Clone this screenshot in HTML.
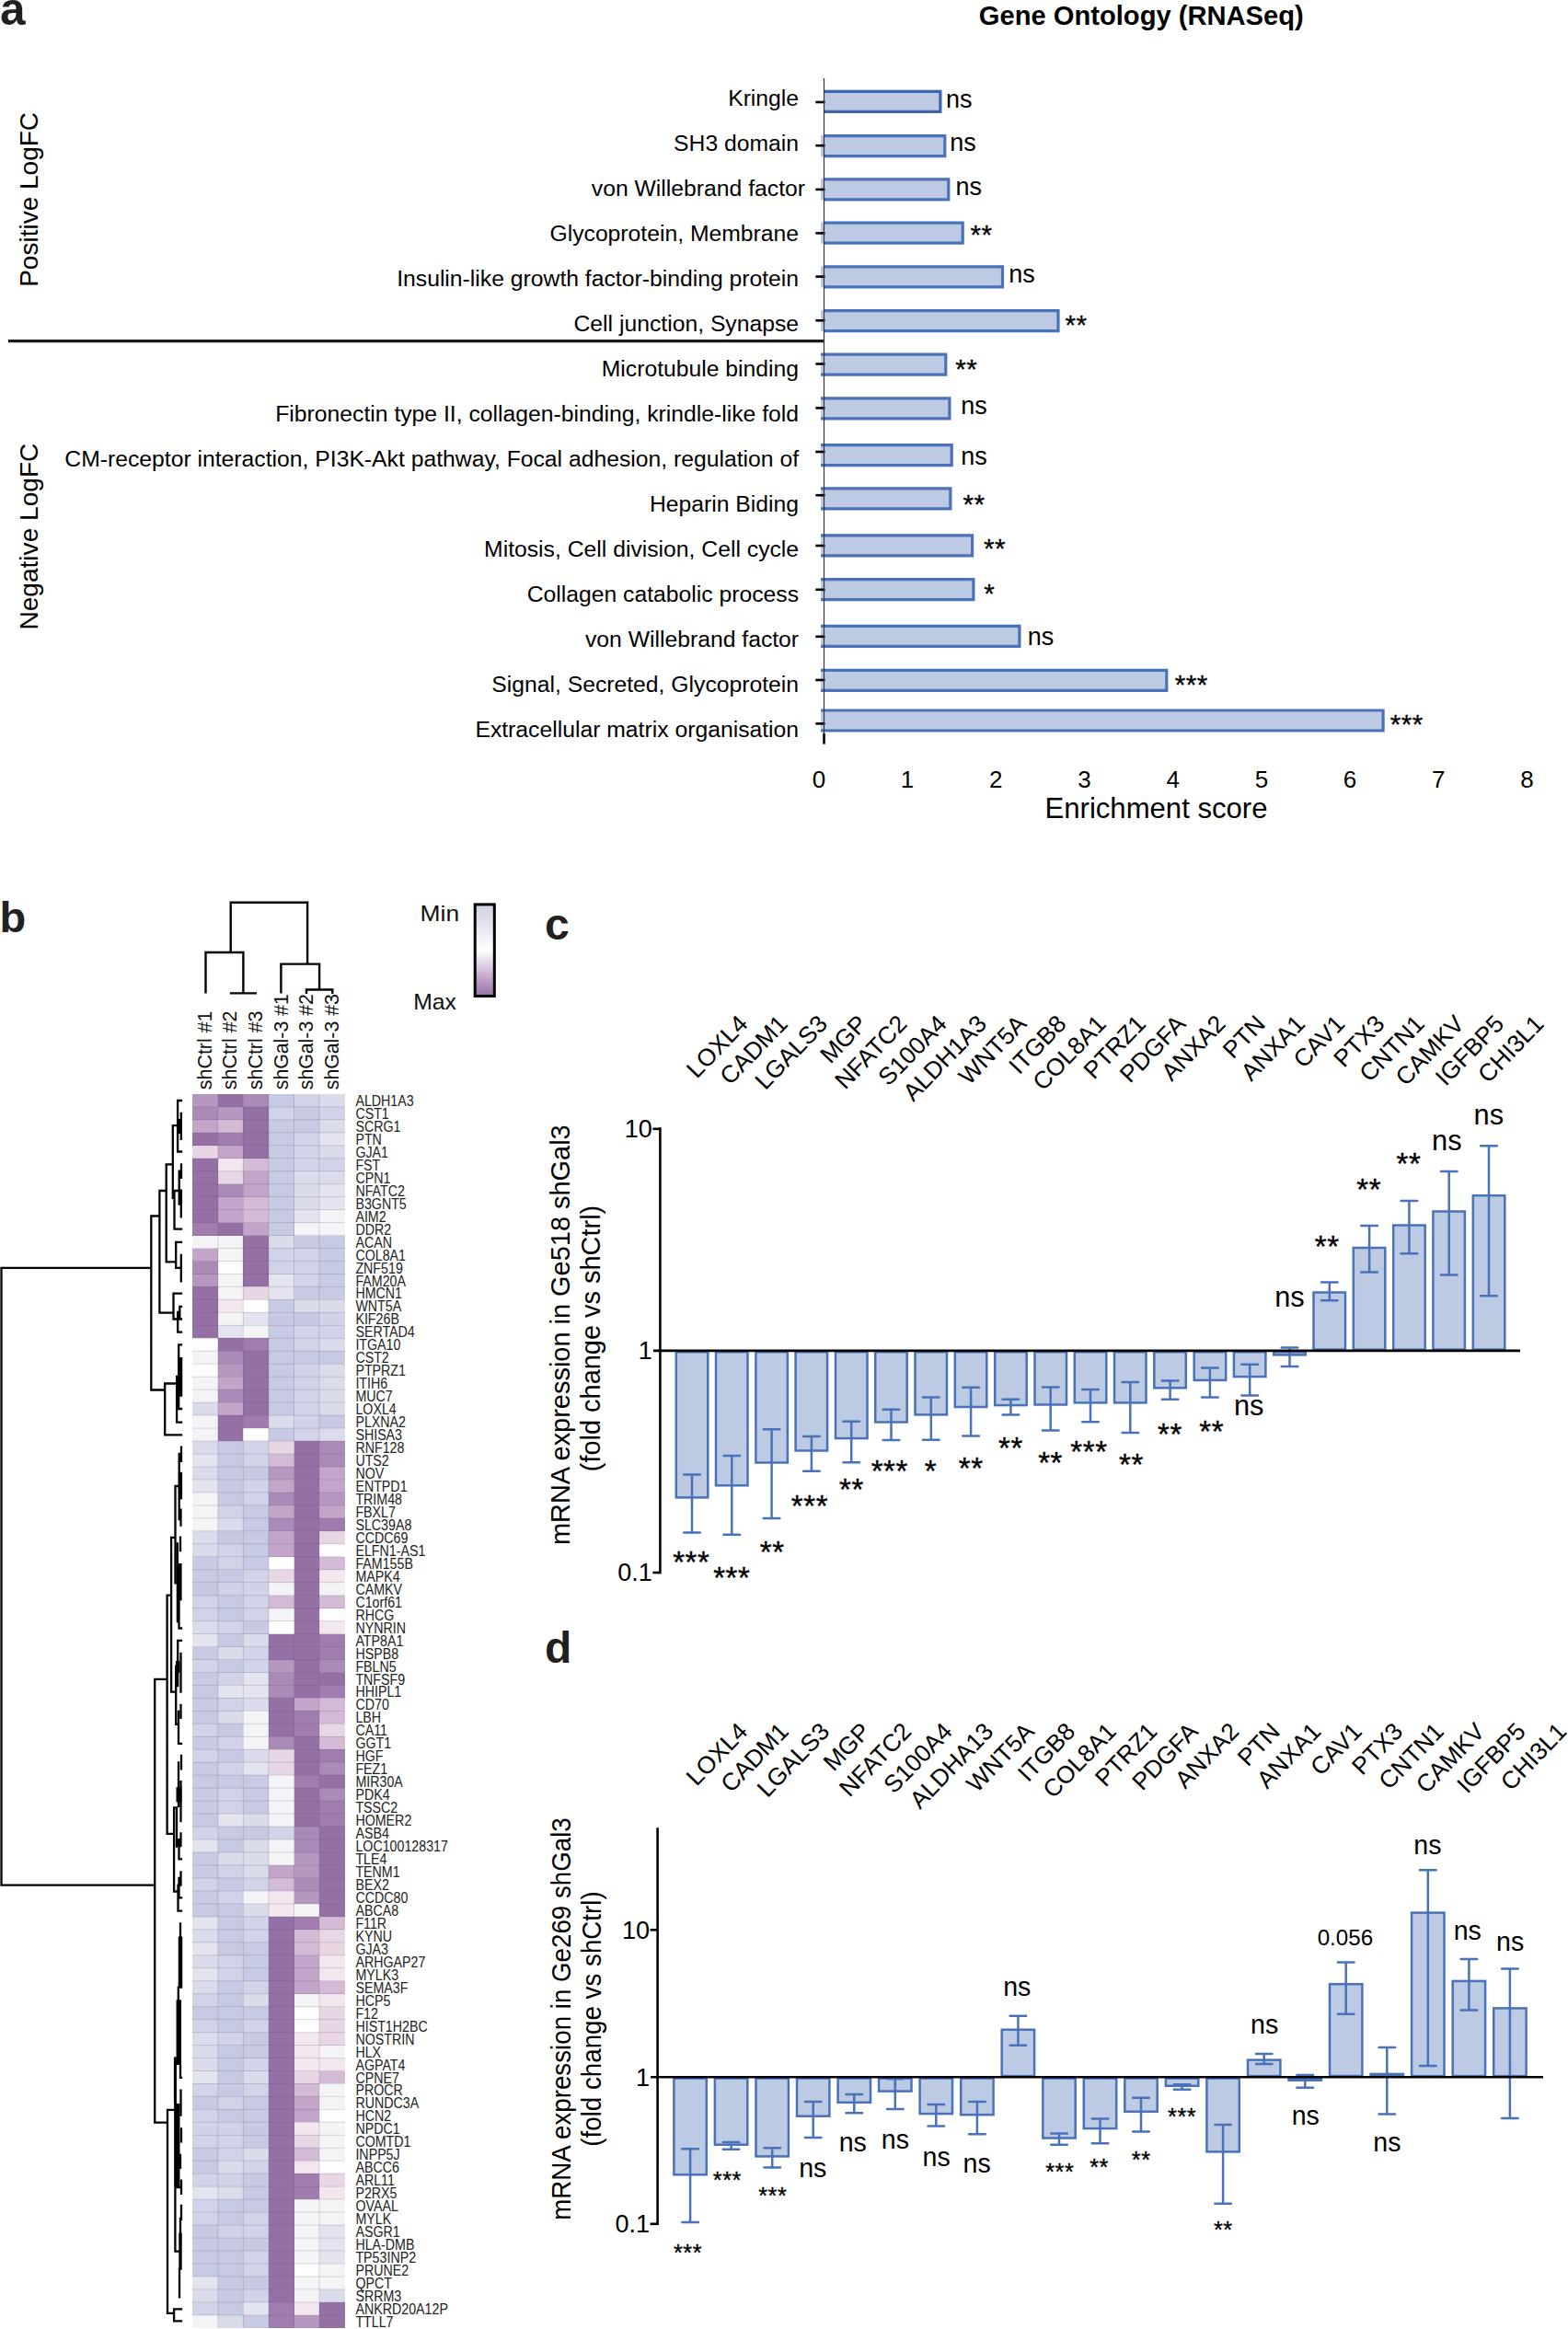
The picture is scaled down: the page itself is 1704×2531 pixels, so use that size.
<!DOCTYPE html>
<html lang="en"><head><meta charset="utf-8"><title>Figure</title>
<style>
html,body{margin:0;padding:0;background:#fff}
svg{display:block}
svg text{font-family:"Liberation Sans",sans-serif}
</style></head><body>
<svg width="1704" height="2531" viewBox="0 0 1704 2531">
<rect width="1704" height="2531" fill="#fff"/>
<g id="panel-a">
<text x="0" y="27.2" font-size="49.5" font-weight="bold" fill="#231f20">a</text>
<text x="1240.3" y="27.2" font-size="29.15" text-anchor="middle" font-weight="bold">Gene Ontology (RNASeq)</text>
<text transform="translate(41 216.9) rotate(-90)" font-size="28" text-anchor="middle">Positive LogFC</text>
<text transform="translate(41 583.1) rotate(-90)" font-size="28.1" text-anchor="middle">Negative LogFC</text>
<line x1="9" y1="370.7" x2="895.5" y2="370.7" stroke="#1a1a1a" stroke-width="3.2"/>
<text x="868.1" y="115" font-size="24.72" text-anchor="end">Kringle</text>
<text x="868.1" y="163.7" font-size="24.72" text-anchor="end">SH3 domain</text>
<text x="875" y="212.7" font-size="24.72" text-anchor="end">von Willebrand factor</text>
<text x="868.1" y="261.6" font-size="24.72" text-anchor="end">Glycoprotein, Membrane</text>
<text x="868.1" y="310.9" font-size="24.72" text-anchor="end">Insulin-like growth factor-binding protein</text>
<text x="868.1" y="359.8" font-size="24.72" text-anchor="end">Cell junction, Synapse</text>
<text x="868.1" y="408.6" font-size="24.72" text-anchor="end">Microtubule binding</text>
<text x="868.1" y="457.6" font-size="24.72" text-anchor="end">Fibronectin type II, collagen-binding, krindle-like fold</text>
<text x="868.1" y="507.1" font-size="24.72" text-anchor="end">CM-receptor interaction, PI3K-Akt pathway, Focal adhesion, regulation of</text>
<text x="868.1" y="556" font-size="24.72" text-anchor="end">Heparin Biding</text>
<text x="868.1" y="605" font-size="24.72" text-anchor="end">Mitosis, Cell division, Cell cycle</text>
<text x="868.1" y="654" font-size="24.72" text-anchor="end">Collagen catabolic process</text>
<text x="868.1" y="703" font-size="24.72" text-anchor="end">von Willebrand factor</text>
<text x="868.1" y="752" font-size="24.72" text-anchor="end">Signal, Secreted, Glycoprotein</text>
<text x="868.1" y="801" font-size="24.72" text-anchor="end">Extracellular matrix organisation</text>
<rect x="895.5" y="98.8" width="127" height="23.2" fill="#bccae3"/>
<path d="M895.5 99.4H1021.9V121.4H895.5" fill="none" stroke="#3f63ad" stroke-width="3.2"/>
<line x1="886.3" y1="111" x2="896.5" y2="111" stroke="#000" stroke-width="2.6"/>
<rect x="892" y="147" width="135.4" height="23.2" fill="#bccae3"/>
<path d="M895.5 147.6H1026.8V169.6H895.5" fill="none" stroke="#4a72b8" stroke-width="3.2"/>
<line x1="886.3" y1="158.2" x2="896.5" y2="158.2" stroke="#000" stroke-width="2.6"/>
<rect x="892" y="194.2" width="139.4" height="23.2" fill="#bccae3"/>
<path d="M895.5 194.8H1030.8V216.8H895.5" fill="none" stroke="#4a72b8" stroke-width="3.2"/>
<line x1="886.3" y1="205.9" x2="896.5" y2="205.9" stroke="#000" stroke-width="2.6"/>
<rect x="892" y="241.6" width="154.8" height="23.2" fill="#bccae3"/>
<path d="M895.5 242.2H1046.2V264.2H895.5" fill="none" stroke="#4a72b8" stroke-width="3.2"/>
<line x1="886.3" y1="253.4" x2="896.5" y2="253.4" stroke="#000" stroke-width="2.6"/>
<rect x="892" y="289.3" width="198.1" height="23.2" fill="#bccae3"/>
<path d="M895.5 289.9H1089.5V311.9H895.5" fill="none" stroke="#4a72b8" stroke-width="3.2"/>
<line x1="886.3" y1="300.6" x2="896.5" y2="300.6" stroke="#000" stroke-width="2.6"/>
<rect x="892" y="337" width="258.6" height="23.2" fill="#bccae3"/>
<path d="M895.5 337.6H1150V359.6H895.5" fill="none" stroke="#4a72b8" stroke-width="3.2"/>
<line x1="886.3" y1="348.3" x2="896.5" y2="348.3" stroke="#000" stroke-width="2.6"/>
<rect x="892" y="384.5" width="136.4" height="23.2" fill="#bccae3"/>
<path d="M892 385.1H1027.8V407.1H892" fill="none" stroke="#4a72b8" stroke-width="3.2"/>
<line x1="886.3" y1="395.5" x2="896.5" y2="395.5" stroke="#000" stroke-width="2.6"/>
<rect x="892" y="432.2" width="140.5" height="23.2" fill="#bccae3"/>
<path d="M892 432.8H1031.9V454.8H892" fill="none" stroke="#4a72b8" stroke-width="3.2"/>
<line x1="886.3" y1="443.4" x2="896.5" y2="443.4" stroke="#000" stroke-width="2.6"/>
<rect x="892" y="483.1" width="142.8" height="23.2" fill="#bccae3"/>
<path d="M892 483.7H1034.2V505.7H892" fill="none" stroke="#4a72b8" stroke-width="3.2"/>
<line x1="886.3" y1="491" x2="896.5" y2="491" stroke="#000" stroke-width="2.6"/>
<rect x="892" y="530.3" width="141.5" height="23.2" fill="#bccae3"/>
<path d="M892 530.9H1032.9V552.9H892" fill="none" stroke="#4a72b8" stroke-width="3.2"/>
<line x1="886.3" y1="538.2" x2="896.5" y2="538.2" stroke="#000" stroke-width="2.6"/>
<rect x="892" y="581.3" width="165.2" height="23.2" fill="#bccae3"/>
<path d="M892 581.9H1056.6V603.9H892" fill="none" stroke="#4a72b8" stroke-width="3.2"/>
<line x1="886.3" y1="593" x2="896.5" y2="593" stroke="#000" stroke-width="2.6"/>
<rect x="892" y="629" width="166.5" height="23.2" fill="#bccae3"/>
<path d="M892 629.6H1057.9V651.6H892" fill="none" stroke="#4a72b8" stroke-width="3.2"/>
<line x1="886.3" y1="640.8" x2="896.5" y2="640.8" stroke="#000" stroke-width="2.6"/>
<rect x="892" y="679.8" width="216.5" height="23.2" fill="#bccae3"/>
<path d="M892 680.4H1107.9V702.4H892" fill="none" stroke="#4a72b8" stroke-width="3.2"/>
<line x1="886.3" y1="691.8" x2="896.5" y2="691.8" stroke="#000" stroke-width="2.6"/>
<rect x="892" y="727.7" width="376.4" height="23.2" fill="#bccae3"/>
<path d="M892 728.3H1267.8V750.3H892" fill="none" stroke="#4a72b8" stroke-width="3.2"/>
<line x1="886.3" y1="739" x2="896.5" y2="739" stroke="#000" stroke-width="2.6"/>
<rect x="892" y="771.4" width="611.7" height="23.2" fill="#bccae3"/>
<path d="M892 772H1503.1V794H892" fill="none" stroke="#4a72b8" stroke-width="3.2"/>
<line x1="886.3" y1="786.4" x2="896.5" y2="786.4" stroke="#000" stroke-width="2.6"/>
<line x1="895.5" y1="85" x2="895.5" y2="797" stroke="#333" stroke-width="1.2"/>
<line x1="895.5" y1="797" x2="895.5" y2="808.6" stroke="#000" stroke-width="2.6"/>
<text x="889.9" y="855.6" font-size="26" text-anchor="middle">0</text>
<text x="986.1" y="855.6" font-size="26" text-anchor="middle">1</text>
<text x="1082.3" y="855.6" font-size="26" text-anchor="middle">2</text>
<text x="1178.5" y="855.6" font-size="26" text-anchor="middle">3</text>
<text x="1274.7" y="855.6" font-size="26" text-anchor="middle">4</text>
<text x="1370.9" y="855.6" font-size="26" text-anchor="middle">5</text>
<text x="1467.1" y="855.6" font-size="26" text-anchor="middle">6</text>
<text x="1563.3" y="855.6" font-size="26" text-anchor="middle">7</text>
<text x="1659.5" y="855.6" font-size="26" text-anchor="middle">8</text>
<text x="1256.5" y="888.8" font-size="31.1" text-anchor="middle">Enrichment score</text>
<text x="1028.1" y="116.9" font-size="27">ns</text>
<text x="1032.2" y="164.1" font-size="27">ns</text>
<text x="1038.6" y="212.1" font-size="27">ns</text>
<text x="1054.5" y="264.7" font-size="29.6" letter-spacing="0.5" stroke="#000" stroke-width="0.3">**</text>
<text x="1096.2" y="307" font-size="27">ns</text>
<text x="1157.6" y="362.9" font-size="29.6" letter-spacing="0.5" stroke="#000" stroke-width="0.3">**</text>
<text x="1038.2" y="410.6" font-size="29.6" letter-spacing="0.5" stroke="#000" stroke-width="0.3">**</text>
<text x="1044.2" y="449.8" font-size="27">ns</text>
<text x="1044.2" y="505.3" font-size="27">ns</text>
<text x="1046.4" y="557.9" font-size="29.6" letter-spacing="0.5" stroke="#000" stroke-width="0.3">**</text>
<text x="1069.1" y="606.4" font-size="29.6" letter-spacing="0.5" stroke="#000" stroke-width="0.3">**</text>
<text x="1069.3" y="654.9" font-size="29.6" letter-spacing="0.5" stroke="#000" stroke-width="0.3">*</text>
<text x="1116.7" y="701" font-size="27">ns</text>
<text x="1276.7" y="754.1" font-size="29.6" letter-spacing="0.5" stroke="#000" stroke-width="0.3">***</text>
<text x="1510.7" y="797.1" font-size="29.6" letter-spacing="0.5" stroke="#000" stroke-width="0.3">***</text>
</g>
<g id="panel-b">
<text x="-0.6" y="1013" font-size="47" font-weight="bold" fill="#231f20">b</text>
<g shape-rendering="crispEdges">
<rect x="209.2" y="1188.9" width="27.9" height="14.3" fill="#b597bf"/>
<rect x="236.8" y="1188.9" width="27.9" height="14.3" fill="#9570a5"/>
<rect x="264.3" y="1188.9" width="27.9" height="14.3" fill="#aa8ab6"/>
<rect x="291.9" y="1188.9" width="27.9" height="14.3" fill="#c7cae3"/>
<rect x="319.5" y="1188.9" width="27.9" height="14.3" fill="#d1d3e8"/>
<rect x="347" y="1188.9" width="27.9" height="14.3" fill="#dadbeb"/>
<rect x="209.2" y="1202.9" width="27.9" height="14.3" fill="#aa8ab6"/>
<rect x="236.8" y="1202.9" width="27.9" height="14.3" fill="#b597bf"/>
<rect x="264.3" y="1202.9" width="27.9" height="14.3" fill="#9570a5"/>
<rect x="291.9" y="1202.9" width="27.9" height="14.3" fill="#d1d3e8"/>
<rect x="319.5" y="1202.9" width="27.9" height="14.3" fill="#c7cae3"/>
<rect x="347" y="1202.9" width="27.9" height="14.3" fill="#d1d3e8"/>
<rect x="209.2" y="1216.8" width="27.9" height="14.3" fill="#c2a5c9"/>
<rect x="236.8" y="1216.8" width="27.9" height="14.3" fill="#d3bbd6"/>
<rect x="264.3" y="1216.8" width="27.9" height="14.3" fill="#9570a5"/>
<rect x="291.9" y="1216.8" width="27.9" height="14.3" fill="#c7cae3"/>
<rect x="319.5" y="1216.8" width="27.9" height="14.3" fill="#c7cae3"/>
<rect x="347" y="1216.8" width="27.9" height="14.3" fill="#dadbeb"/>
<rect x="209.2" y="1230.8" width="27.9" height="14.3" fill="#9570a5"/>
<rect x="236.8" y="1230.8" width="27.9" height="14.3" fill="#a07dae"/>
<rect x="264.3" y="1230.8" width="27.9" height="14.3" fill="#9570a5"/>
<rect x="291.9" y="1230.8" width="27.9" height="14.3" fill="#c7cae3"/>
<rect x="319.5" y="1230.8" width="27.9" height="14.3" fill="#d1d3e8"/>
<rect x="347" y="1230.8" width="27.9" height="14.3" fill="#e3e4f0"/>
<rect x="209.2" y="1244.8" width="27.9" height="14.3" fill="#e8d6e5"/>
<rect x="236.8" y="1244.8" width="27.9" height="14.3" fill="#c2a5c9"/>
<rect x="264.3" y="1244.8" width="27.9" height="14.3" fill="#9570a5"/>
<rect x="291.9" y="1244.8" width="27.9" height="14.3" fill="#c7cae3"/>
<rect x="319.5" y="1244.8" width="27.9" height="14.3" fill="#d1d3e8"/>
<rect x="347" y="1244.8" width="27.9" height="14.3" fill="#dadbeb"/>
<rect x="209.2" y="1258.7" width="27.9" height="14.3" fill="#9570a5"/>
<rect x="236.8" y="1258.7" width="27.9" height="14.3" fill="#f2e7ee"/>
<rect x="264.3" y="1258.7" width="27.9" height="14.3" fill="#d3bbd6"/>
<rect x="291.9" y="1258.7" width="27.9" height="14.3" fill="#c7cae3"/>
<rect x="319.5" y="1258.7" width="27.9" height="14.3" fill="#d1d3e8"/>
<rect x="347" y="1258.7" width="27.9" height="14.3" fill="#d1d3e8"/>
<rect x="209.2" y="1272.7" width="27.9" height="14.3" fill="#9570a5"/>
<rect x="236.8" y="1272.7" width="27.9" height="14.3" fill="#e8d6e5"/>
<rect x="264.3" y="1272.7" width="27.9" height="14.3" fill="#c2a5c9"/>
<rect x="291.9" y="1272.7" width="27.9" height="14.3" fill="#c7cae3"/>
<rect x="319.5" y="1272.7" width="27.9" height="14.3" fill="#dadbeb"/>
<rect x="347" y="1272.7" width="27.9" height="14.3" fill="#dadbeb"/>
<rect x="209.2" y="1286.7" width="27.9" height="14.3" fill="#9570a5"/>
<rect x="236.8" y="1286.7" width="27.9" height="14.3" fill="#aa8ab6"/>
<rect x="264.3" y="1286.7" width="27.9" height="14.3" fill="#c2a5c9"/>
<rect x="291.9" y="1286.7" width="27.9" height="14.3" fill="#c7cae3"/>
<rect x="319.5" y="1286.7" width="27.9" height="14.3" fill="#dadbeb"/>
<rect x="347" y="1286.7" width="27.9" height="14.3" fill="#e3e4f0"/>
<rect x="209.2" y="1300.6" width="27.9" height="14.3" fill="#9570a5"/>
<rect x="236.8" y="1300.6" width="27.9" height="14.3" fill="#c2a5c9"/>
<rect x="264.3" y="1300.6" width="27.9" height="14.3" fill="#d3bbd6"/>
<rect x="291.9" y="1300.6" width="27.9" height="14.3" fill="#c7cae3"/>
<rect x="319.5" y="1300.6" width="27.9" height="14.3" fill="#dadbeb"/>
<rect x="347" y="1300.6" width="27.9" height="14.3" fill="#e3e4f0"/>
<rect x="209.2" y="1314.6" width="27.9" height="14.3" fill="#9570a5"/>
<rect x="236.8" y="1314.6" width="27.9" height="14.3" fill="#c2a5c9"/>
<rect x="264.3" y="1314.6" width="27.9" height="14.3" fill="#d3bbd6"/>
<rect x="291.9" y="1314.6" width="27.9" height="14.3" fill="#c7cae3"/>
<rect x="319.5" y="1314.6" width="27.9" height="14.3" fill="#e3e4f0"/>
<rect x="347" y="1314.6" width="27.9" height="14.3" fill="#f4f4f6"/>
<rect x="209.2" y="1328.6" width="27.9" height="14.3" fill="#a07dae"/>
<rect x="236.8" y="1328.6" width="27.9" height="14.3" fill="#9570a5"/>
<rect x="264.3" y="1328.6" width="27.9" height="14.3" fill="#c2a5c9"/>
<rect x="291.9" y="1328.6" width="27.9" height="14.3" fill="#c7cae3"/>
<rect x="319.5" y="1328.6" width="27.9" height="14.3" fill="#f4f4f6"/>
<rect x="347" y="1328.6" width="27.9" height="14.3" fill="#f4f4f6"/>
<rect x="209.2" y="1342.5" width="27.9" height="14.3" fill="#f4f4f6"/>
<rect x="236.8" y="1342.5" width="27.9" height="14.3" fill="#f4f4f6"/>
<rect x="264.3" y="1342.5" width="27.9" height="14.3" fill="#9570a5"/>
<rect x="291.9" y="1342.5" width="27.9" height="14.3" fill="#dadbeb"/>
<rect x="319.5" y="1342.5" width="27.9" height="14.3" fill="#c7cae3"/>
<rect x="347" y="1342.5" width="27.9" height="14.3" fill="#c7cae3"/>
<rect x="209.2" y="1356.5" width="27.9" height="14.3" fill="#c2a5c9"/>
<rect x="236.8" y="1356.5" width="27.9" height="14.3" fill="#f4f4f6"/>
<rect x="264.3" y="1356.5" width="27.9" height="14.3" fill="#9570a5"/>
<rect x="291.9" y="1356.5" width="27.9" height="14.3" fill="#d1d3e8"/>
<rect x="319.5" y="1356.5" width="27.9" height="14.3" fill="#d1d3e8"/>
<rect x="347" y="1356.5" width="27.9" height="14.3" fill="#c7cae3"/>
<rect x="209.2" y="1370.5" width="27.9" height="14.3" fill="#aa8ab6"/>
<rect x="236.8" y="1370.5" width="27.9" height="14.3" fill="#fdfdfd"/>
<rect x="264.3" y="1370.5" width="27.9" height="14.3" fill="#9570a5"/>
<rect x="291.9" y="1370.5" width="27.9" height="14.3" fill="#d1d3e8"/>
<rect x="319.5" y="1370.5" width="27.9" height="14.3" fill="#d1d3e8"/>
<rect x="347" y="1370.5" width="27.9" height="14.3" fill="#c7cae3"/>
<rect x="209.2" y="1384.5" width="27.9" height="14.3" fill="#b597bf"/>
<rect x="236.8" y="1384.5" width="27.9" height="14.3" fill="#f4f4f6"/>
<rect x="264.3" y="1384.5" width="27.9" height="14.3" fill="#9570a5"/>
<rect x="291.9" y="1384.5" width="27.9" height="14.3" fill="#e3e4f0"/>
<rect x="319.5" y="1384.5" width="27.9" height="14.3" fill="#d1d3e8"/>
<rect x="347" y="1384.5" width="27.9" height="14.3" fill="#c7cae3"/>
<rect x="209.2" y="1398.4" width="27.9" height="14.3" fill="#9570a5"/>
<rect x="236.8" y="1398.4" width="27.9" height="14.3" fill="#f4f4f6"/>
<rect x="264.3" y="1398.4" width="27.9" height="14.3" fill="#e8d6e5"/>
<rect x="291.9" y="1398.4" width="27.9" height="14.3" fill="#e3e4f0"/>
<rect x="319.5" y="1398.4" width="27.9" height="14.3" fill="#c7cae3"/>
<rect x="347" y="1398.4" width="27.9" height="14.3" fill="#c7cae3"/>
<rect x="209.2" y="1412.4" width="27.9" height="14.3" fill="#9570a5"/>
<rect x="236.8" y="1412.4" width="27.9" height="14.3" fill="#f2e7ee"/>
<rect x="264.3" y="1412.4" width="27.9" height="14.3" fill="#fdfdfd"/>
<rect x="291.9" y="1412.4" width="27.9" height="14.3" fill="#c7cae3"/>
<rect x="319.5" y="1412.4" width="27.9" height="14.3" fill="#dadbeb"/>
<rect x="347" y="1412.4" width="27.9" height="14.3" fill="#dadbeb"/>
<rect x="209.2" y="1426.4" width="27.9" height="14.3" fill="#9570a5"/>
<rect x="236.8" y="1426.4" width="27.9" height="14.3" fill="#f4f4f6"/>
<rect x="264.3" y="1426.4" width="27.9" height="14.3" fill="#e3e4f0"/>
<rect x="291.9" y="1426.4" width="27.9" height="14.3" fill="#c7cae3"/>
<rect x="319.5" y="1426.4" width="27.9" height="14.3" fill="#c7cae3"/>
<rect x="347" y="1426.4" width="27.9" height="14.3" fill="#d1d3e8"/>
<rect x="209.2" y="1440.3" width="27.9" height="14.3" fill="#9570a5"/>
<rect x="236.8" y="1440.3" width="27.9" height="14.3" fill="#e3e4f0"/>
<rect x="264.3" y="1440.3" width="27.9" height="14.3" fill="#f4f4f6"/>
<rect x="291.9" y="1440.3" width="27.9" height="14.3" fill="#c7cae3"/>
<rect x="319.5" y="1440.3" width="27.9" height="14.3" fill="#d1d3e8"/>
<rect x="347" y="1440.3" width="27.9" height="14.3" fill="#d1d3e8"/>
<rect x="209.2" y="1454.3" width="27.9" height="14.3" fill="#fdfdfd"/>
<rect x="236.8" y="1454.3" width="27.9" height="14.3" fill="#9570a5"/>
<rect x="264.3" y="1454.3" width="27.9" height="14.3" fill="#a07dae"/>
<rect x="291.9" y="1454.3" width="27.9" height="14.3" fill="#c7cae3"/>
<rect x="319.5" y="1454.3" width="27.9" height="14.3" fill="#d1d3e8"/>
<rect x="347" y="1454.3" width="27.9" height="14.3" fill="#dadbeb"/>
<rect x="209.2" y="1468.3" width="27.9" height="14.3" fill="#f4f4f6"/>
<rect x="236.8" y="1468.3" width="27.9" height="14.3" fill="#aa8ab6"/>
<rect x="264.3" y="1468.3" width="27.9" height="14.3" fill="#9570a5"/>
<rect x="291.9" y="1468.3" width="27.9" height="14.3" fill="#c7cae3"/>
<rect x="319.5" y="1468.3" width="27.9" height="14.3" fill="#c7cae3"/>
<rect x="347" y="1468.3" width="27.9" height="14.3" fill="#c7cae3"/>
<rect x="209.2" y="1482.2" width="27.9" height="14.3" fill="#fdfdfd"/>
<rect x="236.8" y="1482.2" width="27.9" height="14.3" fill="#b597bf"/>
<rect x="264.3" y="1482.2" width="27.9" height="14.3" fill="#9570a5"/>
<rect x="291.9" y="1482.2" width="27.9" height="14.3" fill="#c7cae3"/>
<rect x="319.5" y="1482.2" width="27.9" height="14.3" fill="#d1d3e8"/>
<rect x="347" y="1482.2" width="27.9" height="14.3" fill="#dadbeb"/>
<rect x="209.2" y="1496.2" width="27.9" height="14.3" fill="#f4f4f6"/>
<rect x="236.8" y="1496.2" width="27.9" height="14.3" fill="#c2a5c9"/>
<rect x="264.3" y="1496.2" width="27.9" height="14.3" fill="#9570a5"/>
<rect x="291.9" y="1496.2" width="27.9" height="14.3" fill="#c7cae3"/>
<rect x="319.5" y="1496.2" width="27.9" height="14.3" fill="#d1d3e8"/>
<rect x="347" y="1496.2" width="27.9" height="14.3" fill="#dadbeb"/>
<rect x="209.2" y="1510.2" width="27.9" height="14.3" fill="#f4f4f6"/>
<rect x="236.8" y="1510.2" width="27.9" height="14.3" fill="#aa8ab6"/>
<rect x="264.3" y="1510.2" width="27.9" height="14.3" fill="#9570a5"/>
<rect x="291.9" y="1510.2" width="27.9" height="14.3" fill="#c7cae3"/>
<rect x="319.5" y="1510.2" width="27.9" height="14.3" fill="#d1d3e8"/>
<rect x="347" y="1510.2" width="27.9" height="14.3" fill="#dadbeb"/>
<rect x="209.2" y="1524.1" width="27.9" height="14.3" fill="#dadbeb"/>
<rect x="236.8" y="1524.1" width="27.9" height="14.3" fill="#c2a5c9"/>
<rect x="264.3" y="1524.1" width="27.9" height="14.3" fill="#9570a5"/>
<rect x="291.9" y="1524.1" width="27.9" height="14.3" fill="#c7cae3"/>
<rect x="319.5" y="1524.1" width="27.9" height="14.3" fill="#d1d3e8"/>
<rect x="347" y="1524.1" width="27.9" height="14.3" fill="#dadbeb"/>
<rect x="209.2" y="1538.1" width="27.9" height="14.3" fill="#f4f4f6"/>
<rect x="236.8" y="1538.1" width="27.9" height="14.3" fill="#9570a5"/>
<rect x="264.3" y="1538.1" width="27.9" height="14.3" fill="#a07dae"/>
<rect x="291.9" y="1538.1" width="27.9" height="14.3" fill="#dadbeb"/>
<rect x="319.5" y="1538.1" width="27.9" height="14.3" fill="#d1d3e8"/>
<rect x="347" y="1538.1" width="27.9" height="14.3" fill="#c7cae3"/>
<rect x="209.2" y="1552.1" width="27.9" height="14.3" fill="#f4f4f6"/>
<rect x="236.8" y="1552.1" width="27.9" height="14.3" fill="#9570a5"/>
<rect x="264.3" y="1552.1" width="27.9" height="14.3" fill="#fdfdfd"/>
<rect x="291.9" y="1552.1" width="27.9" height="14.3" fill="#c7cae3"/>
<rect x="319.5" y="1552.1" width="27.9" height="14.3" fill="#d1d3e8"/>
<rect x="347" y="1552.1" width="27.9" height="14.3" fill="#dadbeb"/>
<rect x="209.2" y="1566" width="27.9" height="14.3" fill="#dadbeb"/>
<rect x="236.8" y="1566" width="27.9" height="14.3" fill="#c7cae3"/>
<rect x="264.3" y="1566" width="27.9" height="14.3" fill="#d1d3e8"/>
<rect x="291.9" y="1566" width="27.9" height="14.3" fill="#e8d6e5"/>
<rect x="319.5" y="1566" width="27.9" height="14.3" fill="#9570a5"/>
<rect x="347" y="1566" width="27.9" height="14.3" fill="#aa8ab6"/>
<rect x="209.2" y="1580" width="27.9" height="14.3" fill="#e3e4f0"/>
<rect x="236.8" y="1580" width="27.9" height="14.3" fill="#c7cae3"/>
<rect x="264.3" y="1580" width="27.9" height="14.3" fill="#d1d3e8"/>
<rect x="291.9" y="1580" width="27.9" height="14.3" fill="#d3bbd6"/>
<rect x="319.5" y="1580" width="27.9" height="14.3" fill="#9570a5"/>
<rect x="347" y="1580" width="27.9" height="14.3" fill="#aa8ab6"/>
<rect x="209.2" y="1594" width="27.9" height="14.3" fill="#dadbeb"/>
<rect x="236.8" y="1594" width="27.9" height="14.3" fill="#c7cae3"/>
<rect x="264.3" y="1594" width="27.9" height="14.3" fill="#c7cae3"/>
<rect x="291.9" y="1594" width="27.9" height="14.3" fill="#b597bf"/>
<rect x="319.5" y="1594" width="27.9" height="14.3" fill="#9570a5"/>
<rect x="347" y="1594" width="27.9" height="14.3" fill="#c2a5c9"/>
<rect x="209.2" y="1607.9" width="27.9" height="14.3" fill="#e3e4f0"/>
<rect x="236.8" y="1607.9" width="27.9" height="14.3" fill="#c7cae3"/>
<rect x="264.3" y="1607.9" width="27.9" height="14.3" fill="#d1d3e8"/>
<rect x="291.9" y="1607.9" width="27.9" height="14.3" fill="#c2a5c9"/>
<rect x="319.5" y="1607.9" width="27.9" height="14.3" fill="#9570a5"/>
<rect x="347" y="1607.9" width="27.9" height="14.3" fill="#c2a5c9"/>
<rect x="209.2" y="1621.9" width="27.9" height="14.3" fill="#f4f4f6"/>
<rect x="236.8" y="1621.9" width="27.9" height="14.3" fill="#c7cae3"/>
<rect x="264.3" y="1621.9" width="27.9" height="14.3" fill="#d1d3e8"/>
<rect x="291.9" y="1621.9" width="27.9" height="14.3" fill="#aa8ab6"/>
<rect x="319.5" y="1621.9" width="27.9" height="14.3" fill="#9570a5"/>
<rect x="347" y="1621.9" width="27.9" height="14.3" fill="#b597bf"/>
<rect x="209.2" y="1635.9" width="27.9" height="14.3" fill="#f4f4f6"/>
<rect x="236.8" y="1635.9" width="27.9" height="14.3" fill="#d1d3e8"/>
<rect x="264.3" y="1635.9" width="27.9" height="14.3" fill="#c7cae3"/>
<rect x="291.9" y="1635.9" width="27.9" height="14.3" fill="#c2a5c9"/>
<rect x="319.5" y="1635.9" width="27.9" height="14.3" fill="#9570a5"/>
<rect x="347" y="1635.9" width="27.9" height="14.3" fill="#c2a5c9"/>
<rect x="209.2" y="1649.8" width="27.9" height="14.3" fill="#f4f4f6"/>
<rect x="236.8" y="1649.8" width="27.9" height="14.3" fill="#dadbeb"/>
<rect x="264.3" y="1649.8" width="27.9" height="14.3" fill="#c7cae3"/>
<rect x="291.9" y="1649.8" width="27.9" height="14.3" fill="#aa8ab6"/>
<rect x="319.5" y="1649.8" width="27.9" height="14.3" fill="#9570a5"/>
<rect x="347" y="1649.8" width="27.9" height="14.3" fill="#a07dae"/>
<rect x="209.2" y="1663.8" width="27.9" height="14.3" fill="#dadbeb"/>
<rect x="236.8" y="1663.8" width="27.9" height="14.3" fill="#c7cae3"/>
<rect x="264.3" y="1663.8" width="27.9" height="14.3" fill="#c7cae3"/>
<rect x="291.9" y="1663.8" width="27.9" height="14.3" fill="#c2a5c9"/>
<rect x="319.5" y="1663.8" width="27.9" height="14.3" fill="#9570a5"/>
<rect x="347" y="1663.8" width="27.9" height="14.3" fill="#e8d6e5"/>
<rect x="209.2" y="1677.8" width="27.9" height="14.3" fill="#dadbeb"/>
<rect x="236.8" y="1677.8" width="27.9" height="14.3" fill="#d1d3e8"/>
<rect x="264.3" y="1677.8" width="27.9" height="14.3" fill="#c7cae3"/>
<rect x="291.9" y="1677.8" width="27.9" height="14.3" fill="#c2a5c9"/>
<rect x="319.5" y="1677.8" width="27.9" height="14.3" fill="#9570a5"/>
<rect x="347" y="1677.8" width="27.9" height="14.3" fill="#fdfdfd"/>
<rect x="209.2" y="1691.7" width="27.9" height="14.3" fill="#c7cae3"/>
<rect x="236.8" y="1691.7" width="27.9" height="14.3" fill="#d1d3e8"/>
<rect x="264.3" y="1691.7" width="27.9" height="14.3" fill="#c7cae3"/>
<rect x="291.9" y="1691.7" width="27.9" height="14.3" fill="#fdfdfd"/>
<rect x="319.5" y="1691.7" width="27.9" height="14.3" fill="#9570a5"/>
<rect x="347" y="1691.7" width="27.9" height="14.3" fill="#d3bbd6"/>
<rect x="209.2" y="1705.7" width="27.9" height="14.3" fill="#c7cae3"/>
<rect x="236.8" y="1705.7" width="27.9" height="14.3" fill="#c7cae3"/>
<rect x="264.3" y="1705.7" width="27.9" height="14.3" fill="#d1d3e8"/>
<rect x="291.9" y="1705.7" width="27.9" height="14.3" fill="#e8d6e5"/>
<rect x="319.5" y="1705.7" width="27.9" height="14.3" fill="#9570a5"/>
<rect x="347" y="1705.7" width="27.9" height="14.3" fill="#f2e7ee"/>
<rect x="209.2" y="1719.7" width="27.9" height="14.3" fill="#c7cae3"/>
<rect x="236.8" y="1719.7" width="27.9" height="14.3" fill="#d1d3e8"/>
<rect x="264.3" y="1719.7" width="27.9" height="14.3" fill="#d1d3e8"/>
<rect x="291.9" y="1719.7" width="27.9" height="14.3" fill="#f4f4f6"/>
<rect x="319.5" y="1719.7" width="27.9" height="14.3" fill="#9570a5"/>
<rect x="347" y="1719.7" width="27.9" height="14.3" fill="#f4f4f6"/>
<rect x="209.2" y="1733.7" width="27.9" height="14.3" fill="#d1d3e8"/>
<rect x="236.8" y="1733.7" width="27.9" height="14.3" fill="#c7cae3"/>
<rect x="264.3" y="1733.7" width="27.9" height="14.3" fill="#d1d3e8"/>
<rect x="291.9" y="1733.7" width="27.9" height="14.3" fill="#d3bbd6"/>
<rect x="319.5" y="1733.7" width="27.9" height="14.3" fill="#9570a5"/>
<rect x="347" y="1733.7" width="27.9" height="14.3" fill="#d3bbd6"/>
<rect x="209.2" y="1747.6" width="27.9" height="14.3" fill="#d1d3e8"/>
<rect x="236.8" y="1747.6" width="27.9" height="14.3" fill="#c7cae3"/>
<rect x="264.3" y="1747.6" width="27.9" height="14.3" fill="#d1d3e8"/>
<rect x="291.9" y="1747.6" width="27.9" height="14.3" fill="#f4f4f6"/>
<rect x="319.5" y="1747.6" width="27.9" height="14.3" fill="#9570a5"/>
<rect x="347" y="1747.6" width="27.9" height="14.3" fill="#fdfdfd"/>
<rect x="209.2" y="1761.6" width="27.9" height="14.3" fill="#dadbeb"/>
<rect x="236.8" y="1761.6" width="27.9" height="14.3" fill="#d1d3e8"/>
<rect x="264.3" y="1761.6" width="27.9" height="14.3" fill="#c7cae3"/>
<rect x="291.9" y="1761.6" width="27.9" height="14.3" fill="#fdfdfd"/>
<rect x="319.5" y="1761.6" width="27.9" height="14.3" fill="#9570a5"/>
<rect x="347" y="1761.6" width="27.9" height="14.3" fill="#f2e7ee"/>
<rect x="209.2" y="1775.6" width="27.9" height="14.3" fill="#e3e4f0"/>
<rect x="236.8" y="1775.6" width="27.9" height="14.3" fill="#c7cae3"/>
<rect x="264.3" y="1775.6" width="27.9" height="14.3" fill="#dadbeb"/>
<rect x="291.9" y="1775.6" width="27.9" height="14.3" fill="#9570a5"/>
<rect x="319.5" y="1775.6" width="27.9" height="14.3" fill="#9570a5"/>
<rect x="347" y="1775.6" width="27.9" height="14.3" fill="#a07dae"/>
<rect x="209.2" y="1789.5" width="27.9" height="14.3" fill="#c7cae3"/>
<rect x="236.8" y="1789.5" width="27.9" height="14.3" fill="#dadbeb"/>
<rect x="264.3" y="1789.5" width="27.9" height="14.3" fill="#d1d3e8"/>
<rect x="291.9" y="1789.5" width="27.9" height="14.3" fill="#9570a5"/>
<rect x="319.5" y="1789.5" width="27.9" height="14.3" fill="#9570a5"/>
<rect x="347" y="1789.5" width="27.9" height="14.3" fill="#a07dae"/>
<rect x="209.2" y="1803.5" width="27.9" height="14.3" fill="#d1d3e8"/>
<rect x="236.8" y="1803.5" width="27.9" height="14.3" fill="#c7cae3"/>
<rect x="264.3" y="1803.5" width="27.9" height="14.3" fill="#d1d3e8"/>
<rect x="291.9" y="1803.5" width="27.9" height="14.3" fill="#b597bf"/>
<rect x="319.5" y="1803.5" width="27.9" height="14.3" fill="#9570a5"/>
<rect x="347" y="1803.5" width="27.9" height="14.3" fill="#aa8ab6"/>
<rect x="209.2" y="1817.5" width="27.9" height="14.3" fill="#c7cae3"/>
<rect x="236.8" y="1817.5" width="27.9" height="14.3" fill="#d1d3e8"/>
<rect x="264.3" y="1817.5" width="27.9" height="14.3" fill="#e3e4f0"/>
<rect x="291.9" y="1817.5" width="27.9" height="14.3" fill="#aa8ab6"/>
<rect x="319.5" y="1817.5" width="27.9" height="14.3" fill="#9570a5"/>
<rect x="347" y="1817.5" width="27.9" height="14.3" fill="#9570a5"/>
<rect x="209.2" y="1831.4" width="27.9" height="14.3" fill="#c7cae3"/>
<rect x="236.8" y="1831.4" width="27.9" height="14.3" fill="#e3e4f0"/>
<rect x="264.3" y="1831.4" width="27.9" height="14.3" fill="#e3e4f0"/>
<rect x="291.9" y="1831.4" width="27.9" height="14.3" fill="#aa8ab6"/>
<rect x="319.5" y="1831.4" width="27.9" height="14.3" fill="#9570a5"/>
<rect x="347" y="1831.4" width="27.9" height="14.3" fill="#a07dae"/>
<rect x="209.2" y="1845.4" width="27.9" height="14.3" fill="#c7cae3"/>
<rect x="236.8" y="1845.4" width="27.9" height="14.3" fill="#d1d3e8"/>
<rect x="264.3" y="1845.4" width="27.9" height="14.3" fill="#dadbeb"/>
<rect x="291.9" y="1845.4" width="27.9" height="14.3" fill="#9570a5"/>
<rect x="319.5" y="1845.4" width="27.9" height="14.3" fill="#c2a5c9"/>
<rect x="347" y="1845.4" width="27.9" height="14.3" fill="#d3bbd6"/>
<rect x="209.2" y="1859.4" width="27.9" height="14.3" fill="#c7cae3"/>
<rect x="236.8" y="1859.4" width="27.9" height="14.3" fill="#dadbeb"/>
<rect x="264.3" y="1859.4" width="27.9" height="14.3" fill="#f4f4f6"/>
<rect x="291.9" y="1859.4" width="27.9" height="14.3" fill="#9570a5"/>
<rect x="319.5" y="1859.4" width="27.9" height="14.3" fill="#a07dae"/>
<rect x="347" y="1859.4" width="27.9" height="14.3" fill="#d3bbd6"/>
<rect x="209.2" y="1873.3" width="27.9" height="14.3" fill="#d1d3e8"/>
<rect x="236.8" y="1873.3" width="27.9" height="14.3" fill="#c7cae3"/>
<rect x="264.3" y="1873.3" width="27.9" height="14.3" fill="#f4f4f6"/>
<rect x="291.9" y="1873.3" width="27.9" height="14.3" fill="#9570a5"/>
<rect x="319.5" y="1873.3" width="27.9" height="14.3" fill="#a07dae"/>
<rect x="347" y="1873.3" width="27.9" height="14.3" fill="#e8d6e5"/>
<rect x="209.2" y="1887.3" width="27.9" height="14.3" fill="#c7cae3"/>
<rect x="236.8" y="1887.3" width="27.9" height="14.3" fill="#d1d3e8"/>
<rect x="264.3" y="1887.3" width="27.9" height="14.3" fill="#f4f4f6"/>
<rect x="291.9" y="1887.3" width="27.9" height="14.3" fill="#aa8ab6"/>
<rect x="319.5" y="1887.3" width="27.9" height="14.3" fill="#9570a5"/>
<rect x="347" y="1887.3" width="27.9" height="14.3" fill="#d3bbd6"/>
<rect x="209.2" y="1901.3" width="27.9" height="14.3" fill="#d1d3e8"/>
<rect x="236.8" y="1901.3" width="27.9" height="14.3" fill="#c7cae3"/>
<rect x="264.3" y="1901.3" width="27.9" height="14.3" fill="#dadbeb"/>
<rect x="291.9" y="1901.3" width="27.9" height="14.3" fill="#e8d6e5"/>
<rect x="319.5" y="1901.3" width="27.9" height="14.3" fill="#9570a5"/>
<rect x="347" y="1901.3" width="27.9" height="14.3" fill="#a07dae"/>
<rect x="209.2" y="1915.2" width="27.9" height="14.3" fill="#c7cae3"/>
<rect x="236.8" y="1915.2" width="27.9" height="14.3" fill="#d1d3e8"/>
<rect x="264.3" y="1915.2" width="27.9" height="14.3" fill="#e3e4f0"/>
<rect x="291.9" y="1915.2" width="27.9" height="14.3" fill="#e8d6e5"/>
<rect x="319.5" y="1915.2" width="27.9" height="14.3" fill="#9570a5"/>
<rect x="347" y="1915.2" width="27.9" height="14.3" fill="#aa8ab6"/>
<rect x="209.2" y="1929.2" width="27.9" height="14.3" fill="#c7cae3"/>
<rect x="236.8" y="1929.2" width="27.9" height="14.3" fill="#c7cae3"/>
<rect x="264.3" y="1929.2" width="27.9" height="14.3" fill="#c7cae3"/>
<rect x="291.9" y="1929.2" width="27.9" height="14.3" fill="#f4f4f6"/>
<rect x="319.5" y="1929.2" width="27.9" height="14.3" fill="#a07dae"/>
<rect x="347" y="1929.2" width="27.9" height="14.3" fill="#9570a5"/>
<rect x="209.2" y="1943.2" width="27.9" height="14.3" fill="#c7cae3"/>
<rect x="236.8" y="1943.2" width="27.9" height="14.3" fill="#d1d3e8"/>
<rect x="264.3" y="1943.2" width="27.9" height="14.3" fill="#c7cae3"/>
<rect x="291.9" y="1943.2" width="27.9" height="14.3" fill="#f4f4f6"/>
<rect x="319.5" y="1943.2" width="27.9" height="14.3" fill="#9570a5"/>
<rect x="347" y="1943.2" width="27.9" height="14.3" fill="#aa8ab6"/>
<rect x="209.2" y="1957.1" width="27.9" height="14.3" fill="#c7cae3"/>
<rect x="236.8" y="1957.1" width="27.9" height="14.3" fill="#d1d3e8"/>
<rect x="264.3" y="1957.1" width="27.9" height="14.3" fill="#c7cae3"/>
<rect x="291.9" y="1957.1" width="27.9" height="14.3" fill="#f4f4f6"/>
<rect x="319.5" y="1957.1" width="27.9" height="14.3" fill="#9570a5"/>
<rect x="347" y="1957.1" width="27.9" height="14.3" fill="#a07dae"/>
<rect x="209.2" y="1971.1" width="27.9" height="14.3" fill="#c7cae3"/>
<rect x="236.8" y="1971.1" width="27.9" height="14.3" fill="#e3e4f0"/>
<rect x="264.3" y="1971.1" width="27.9" height="14.3" fill="#dadbeb"/>
<rect x="291.9" y="1971.1" width="27.9" height="14.3" fill="#f4f4f6"/>
<rect x="319.5" y="1971.1" width="27.9" height="14.3" fill="#9570a5"/>
<rect x="347" y="1971.1" width="27.9" height="14.3" fill="#a07dae"/>
<rect x="209.2" y="1985.1" width="27.9" height="14.3" fill="#d1d3e8"/>
<rect x="236.8" y="1985.1" width="27.9" height="14.3" fill="#c7cae3"/>
<rect x="264.3" y="1985.1" width="27.9" height="14.3" fill="#c7cae3"/>
<rect x="291.9" y="1985.1" width="27.9" height="14.3" fill="#d1d3e8"/>
<rect x="319.5" y="1985.1" width="27.9" height="14.3" fill="#aa8ab6"/>
<rect x="347" y="1985.1" width="27.9" height="14.3" fill="#9570a5"/>
<rect x="209.2" y="1999" width="27.9" height="14.3" fill="#e3e4f0"/>
<rect x="236.8" y="1999" width="27.9" height="14.3" fill="#c7cae3"/>
<rect x="264.3" y="1999" width="27.9" height="14.3" fill="#dadbeb"/>
<rect x="291.9" y="1999" width="27.9" height="14.3" fill="#f4f4f6"/>
<rect x="319.5" y="1999" width="27.9" height="14.3" fill="#aa8ab6"/>
<rect x="347" y="1999" width="27.9" height="14.3" fill="#9570a5"/>
<rect x="209.2" y="2013" width="27.9" height="14.3" fill="#c7cae3"/>
<rect x="236.8" y="2013" width="27.9" height="14.3" fill="#dadbeb"/>
<rect x="264.3" y="2013" width="27.9" height="14.3" fill="#dadbeb"/>
<rect x="291.9" y="2013" width="27.9" height="14.3" fill="#f4f4f6"/>
<rect x="319.5" y="2013" width="27.9" height="14.3" fill="#b597bf"/>
<rect x="347" y="2013" width="27.9" height="14.3" fill="#9570a5"/>
<rect x="209.2" y="2027" width="27.9" height="14.3" fill="#c7cae3"/>
<rect x="236.8" y="2027" width="27.9" height="14.3" fill="#d1d3e8"/>
<rect x="264.3" y="2027" width="27.9" height="14.3" fill="#dadbeb"/>
<rect x="291.9" y="2027" width="27.9" height="14.3" fill="#c2a5c9"/>
<rect x="319.5" y="2027" width="27.9" height="14.3" fill="#b597bf"/>
<rect x="347" y="2027" width="27.9" height="14.3" fill="#9570a5"/>
<rect x="209.2" y="2040.9" width="27.9" height="14.3" fill="#d1d3e8"/>
<rect x="236.8" y="2040.9" width="27.9" height="14.3" fill="#c7cae3"/>
<rect x="264.3" y="2040.9" width="27.9" height="14.3" fill="#d1d3e8"/>
<rect x="291.9" y="2040.9" width="27.9" height="14.3" fill="#d3bbd6"/>
<rect x="319.5" y="2040.9" width="27.9" height="14.3" fill="#aa8ab6"/>
<rect x="347" y="2040.9" width="27.9" height="14.3" fill="#9570a5"/>
<rect x="209.2" y="2054.9" width="27.9" height="14.3" fill="#c7cae3"/>
<rect x="236.8" y="2054.9" width="27.9" height="14.3" fill="#d1d3e8"/>
<rect x="264.3" y="2054.9" width="27.9" height="14.3" fill="#f4f4f6"/>
<rect x="291.9" y="2054.9" width="27.9" height="14.3" fill="#f2e7ee"/>
<rect x="319.5" y="2054.9" width="27.9" height="14.3" fill="#b597bf"/>
<rect x="347" y="2054.9" width="27.9" height="14.3" fill="#9570a5"/>
<rect x="209.2" y="2068.9" width="27.9" height="14.3" fill="#c7cae3"/>
<rect x="236.8" y="2068.9" width="27.9" height="14.3" fill="#c7cae3"/>
<rect x="264.3" y="2068.9" width="27.9" height="14.3" fill="#dadbeb"/>
<rect x="291.9" y="2068.9" width="27.9" height="14.3" fill="#f2e7ee"/>
<rect x="319.5" y="2068.9" width="27.9" height="14.3" fill="#f4f4f6"/>
<rect x="347" y="2068.9" width="27.9" height="14.3" fill="#9570a5"/>
<rect x="209.2" y="2082.9" width="27.9" height="14.3" fill="#e3e4f0"/>
<rect x="236.8" y="2082.9" width="27.9" height="14.3" fill="#c7cae3"/>
<rect x="264.3" y="2082.9" width="27.9" height="14.3" fill="#d1d3e8"/>
<rect x="291.9" y="2082.9" width="27.9" height="14.3" fill="#9570a5"/>
<rect x="319.5" y="2082.9" width="27.9" height="14.3" fill="#a07dae"/>
<rect x="347" y="2082.9" width="27.9" height="14.3" fill="#d3bbd6"/>
<rect x="209.2" y="2096.8" width="27.9" height="14.3" fill="#dadbeb"/>
<rect x="236.8" y="2096.8" width="27.9" height="14.3" fill="#c7cae3"/>
<rect x="264.3" y="2096.8" width="27.9" height="14.3" fill="#d1d3e8"/>
<rect x="291.9" y="2096.8" width="27.9" height="14.3" fill="#9570a5"/>
<rect x="319.5" y="2096.8" width="27.9" height="14.3" fill="#d3bbd6"/>
<rect x="347" y="2096.8" width="27.9" height="14.3" fill="#e8d6e5"/>
<rect x="209.2" y="2110.8" width="27.9" height="14.3" fill="#e3e4f0"/>
<rect x="236.8" y="2110.8" width="27.9" height="14.3" fill="#c7cae3"/>
<rect x="264.3" y="2110.8" width="27.9" height="14.3" fill="#c7cae3"/>
<rect x="291.9" y="2110.8" width="27.9" height="14.3" fill="#9570a5"/>
<rect x="319.5" y="2110.8" width="27.9" height="14.3" fill="#d3bbd6"/>
<rect x="347" y="2110.8" width="27.9" height="14.3" fill="#e8d6e5"/>
<rect x="209.2" y="2124.8" width="27.9" height="14.3" fill="#dadbeb"/>
<rect x="236.8" y="2124.8" width="27.9" height="14.3" fill="#d1d3e8"/>
<rect x="264.3" y="2124.8" width="27.9" height="14.3" fill="#c7cae3"/>
<rect x="291.9" y="2124.8" width="27.9" height="14.3" fill="#9570a5"/>
<rect x="319.5" y="2124.8" width="27.9" height="14.3" fill="#c2a5c9"/>
<rect x="347" y="2124.8" width="27.9" height="14.3" fill="#f2e7ee"/>
<rect x="209.2" y="2138.7" width="27.9" height="14.3" fill="#e3e4f0"/>
<rect x="236.8" y="2138.7" width="27.9" height="14.3" fill="#d1d3e8"/>
<rect x="264.3" y="2138.7" width="27.9" height="14.3" fill="#c7cae3"/>
<rect x="291.9" y="2138.7" width="27.9" height="14.3" fill="#9570a5"/>
<rect x="319.5" y="2138.7" width="27.9" height="14.3" fill="#c2a5c9"/>
<rect x="347" y="2138.7" width="27.9" height="14.3" fill="#f2e7ee"/>
<rect x="209.2" y="2152.7" width="27.9" height="14.3" fill="#dadbeb"/>
<rect x="236.8" y="2152.7" width="27.9" height="14.3" fill="#c7cae3"/>
<rect x="264.3" y="2152.7" width="27.9" height="14.3" fill="#d1d3e8"/>
<rect x="291.9" y="2152.7" width="27.9" height="14.3" fill="#9570a5"/>
<rect x="319.5" y="2152.7" width="27.9" height="14.3" fill="#c2a5c9"/>
<rect x="347" y="2152.7" width="27.9" height="14.3" fill="#d3bbd6"/>
<rect x="209.2" y="2166.7" width="27.9" height="14.3" fill="#d1d3e8"/>
<rect x="236.8" y="2166.7" width="27.9" height="14.3" fill="#c7cae3"/>
<rect x="264.3" y="2166.7" width="27.9" height="14.3" fill="#dadbeb"/>
<rect x="291.9" y="2166.7" width="27.9" height="14.3" fill="#9570a5"/>
<rect x="319.5" y="2166.7" width="27.9" height="14.3" fill="#f4f4f6"/>
<rect x="347" y="2166.7" width="27.9" height="14.3" fill="#f2e7ee"/>
<rect x="209.2" y="2180.6" width="27.9" height="14.3" fill="#c7cae3"/>
<rect x="236.8" y="2180.6" width="27.9" height="14.3" fill="#c7cae3"/>
<rect x="264.3" y="2180.6" width="27.9" height="14.3" fill="#c7cae3"/>
<rect x="291.9" y="2180.6" width="27.9" height="14.3" fill="#9570a5"/>
<rect x="319.5" y="2180.6" width="27.9" height="14.3" fill="#fdfdfd"/>
<rect x="347" y="2180.6" width="27.9" height="14.3" fill="#e8d6e5"/>
<rect x="209.2" y="2194.6" width="27.9" height="14.3" fill="#d1d3e8"/>
<rect x="236.8" y="2194.6" width="27.9" height="14.3" fill="#c7cae3"/>
<rect x="264.3" y="2194.6" width="27.9" height="14.3" fill="#d1d3e8"/>
<rect x="291.9" y="2194.6" width="27.9" height="14.3" fill="#9570a5"/>
<rect x="319.5" y="2194.6" width="27.9" height="14.3" fill="#fdfdfd"/>
<rect x="347" y="2194.6" width="27.9" height="14.3" fill="#e8d6e5"/>
<rect x="209.2" y="2208.6" width="27.9" height="14.3" fill="#dadbeb"/>
<rect x="236.8" y="2208.6" width="27.9" height="14.3" fill="#d1d3e8"/>
<rect x="264.3" y="2208.6" width="27.9" height="14.3" fill="#c7cae3"/>
<rect x="291.9" y="2208.6" width="27.9" height="14.3" fill="#9570a5"/>
<rect x="319.5" y="2208.6" width="27.9" height="14.3" fill="#f2e7ee"/>
<rect x="347" y="2208.6" width="27.9" height="14.3" fill="#e8d6e5"/>
<rect x="209.2" y="2222.5" width="27.9" height="14.3" fill="#dadbeb"/>
<rect x="236.8" y="2222.5" width="27.9" height="14.3" fill="#c7cae3"/>
<rect x="264.3" y="2222.5" width="27.9" height="14.3" fill="#c7cae3"/>
<rect x="291.9" y="2222.5" width="27.9" height="14.3" fill="#9570a5"/>
<rect x="319.5" y="2222.5" width="27.9" height="14.3" fill="#f2e7ee"/>
<rect x="347" y="2222.5" width="27.9" height="14.3" fill="#f4f4f6"/>
<rect x="209.2" y="2236.5" width="27.9" height="14.3" fill="#dadbeb"/>
<rect x="236.8" y="2236.5" width="27.9" height="14.3" fill="#c7cae3"/>
<rect x="264.3" y="2236.5" width="27.9" height="14.3" fill="#d1d3e8"/>
<rect x="291.9" y="2236.5" width="27.9" height="14.3" fill="#9570a5"/>
<rect x="319.5" y="2236.5" width="27.9" height="14.3" fill="#f2e7ee"/>
<rect x="347" y="2236.5" width="27.9" height="14.3" fill="#f2e7ee"/>
<rect x="209.2" y="2250.5" width="27.9" height="14.3" fill="#e3e4f0"/>
<rect x="236.8" y="2250.5" width="27.9" height="14.3" fill="#c7cae3"/>
<rect x="264.3" y="2250.5" width="27.9" height="14.3" fill="#dadbeb"/>
<rect x="291.9" y="2250.5" width="27.9" height="14.3" fill="#9570a5"/>
<rect x="319.5" y="2250.5" width="27.9" height="14.3" fill="#e8d6e5"/>
<rect x="347" y="2250.5" width="27.9" height="14.3" fill="#d3bbd6"/>
<rect x="209.2" y="2264.4" width="27.9" height="14.3" fill="#d1d3e8"/>
<rect x="236.8" y="2264.4" width="27.9" height="14.3" fill="#c7cae3"/>
<rect x="264.3" y="2264.4" width="27.9" height="14.3" fill="#d1d3e8"/>
<rect x="291.9" y="2264.4" width="27.9" height="14.3" fill="#9570a5"/>
<rect x="319.5" y="2264.4" width="27.9" height="14.3" fill="#d3bbd6"/>
<rect x="347" y="2264.4" width="27.9" height="14.3" fill="#f4f4f6"/>
<rect x="209.2" y="2278.4" width="27.9" height="14.3" fill="#c7cae3"/>
<rect x="236.8" y="2278.4" width="27.9" height="14.3" fill="#d1d3e8"/>
<rect x="264.3" y="2278.4" width="27.9" height="14.3" fill="#c7cae3"/>
<rect x="291.9" y="2278.4" width="27.9" height="14.3" fill="#9570a5"/>
<rect x="319.5" y="2278.4" width="27.9" height="14.3" fill="#c2a5c9"/>
<rect x="347" y="2278.4" width="27.9" height="14.3" fill="#f4f4f6"/>
<rect x="209.2" y="2292.4" width="27.9" height="14.3" fill="#d1d3e8"/>
<rect x="236.8" y="2292.4" width="27.9" height="14.3" fill="#c7cae3"/>
<rect x="264.3" y="2292.4" width="27.9" height="14.3" fill="#c7cae3"/>
<rect x="291.9" y="2292.4" width="27.9" height="14.3" fill="#9570a5"/>
<rect x="319.5" y="2292.4" width="27.9" height="14.3" fill="#c2a5c9"/>
<rect x="347" y="2292.4" width="27.9" height="14.3" fill="#fdfdfd"/>
<rect x="209.2" y="2306.3" width="27.9" height="14.3" fill="#d1d3e8"/>
<rect x="236.8" y="2306.3" width="27.9" height="14.3" fill="#d1d3e8"/>
<rect x="264.3" y="2306.3" width="27.9" height="14.3" fill="#c7cae3"/>
<rect x="291.9" y="2306.3" width="27.9" height="14.3" fill="#9570a5"/>
<rect x="319.5" y="2306.3" width="27.9" height="14.3" fill="#f2e7ee"/>
<rect x="347" y="2306.3" width="27.9" height="14.3" fill="#f4f4f6"/>
<rect x="209.2" y="2320.3" width="27.9" height="14.3" fill="#d1d3e8"/>
<rect x="236.8" y="2320.3" width="27.9" height="14.3" fill="#d1d3e8"/>
<rect x="264.3" y="2320.3" width="27.9" height="14.3" fill="#c7cae3"/>
<rect x="291.9" y="2320.3" width="27.9" height="14.3" fill="#9570a5"/>
<rect x="319.5" y="2320.3" width="27.9" height="14.3" fill="#e8d6e5"/>
<rect x="347" y="2320.3" width="27.9" height="14.3" fill="#f4f4f6"/>
<rect x="209.2" y="2334.3" width="27.9" height="14.3" fill="#c7cae3"/>
<rect x="236.8" y="2334.3" width="27.9" height="14.3" fill="#d1d3e8"/>
<rect x="264.3" y="2334.3" width="27.9" height="14.3" fill="#dadbeb"/>
<rect x="291.9" y="2334.3" width="27.9" height="14.3" fill="#9570a5"/>
<rect x="319.5" y="2334.3" width="27.9" height="14.3" fill="#d3bbd6"/>
<rect x="347" y="2334.3" width="27.9" height="14.3" fill="#f4f4f6"/>
<rect x="209.2" y="2348.2" width="27.9" height="14.3" fill="#c7cae3"/>
<rect x="236.8" y="2348.2" width="27.9" height="14.3" fill="#dadbeb"/>
<rect x="264.3" y="2348.2" width="27.9" height="14.3" fill="#d1d3e8"/>
<rect x="291.9" y="2348.2" width="27.9" height="14.3" fill="#9570a5"/>
<rect x="319.5" y="2348.2" width="27.9" height="14.3" fill="#f2e7ee"/>
<rect x="347" y="2348.2" width="27.9" height="14.3" fill="#fdfdfd"/>
<rect x="209.2" y="2362.2" width="27.9" height="14.3" fill="#d1d3e8"/>
<rect x="236.8" y="2362.2" width="27.9" height="14.3" fill="#d1d3e8"/>
<rect x="264.3" y="2362.2" width="27.9" height="14.3" fill="#c7cae3"/>
<rect x="291.9" y="2362.2" width="27.9" height="14.3" fill="#9570a5"/>
<rect x="319.5" y="2362.2" width="27.9" height="14.3" fill="#a07dae"/>
<rect x="347" y="2362.2" width="27.9" height="14.3" fill="#e8d6e5"/>
<rect x="209.2" y="2376.2" width="27.9" height="14.3" fill="#e3e4f0"/>
<rect x="236.8" y="2376.2" width="27.9" height="14.3" fill="#dadbeb"/>
<rect x="264.3" y="2376.2" width="27.9" height="14.3" fill="#c7cae3"/>
<rect x="291.9" y="2376.2" width="27.9" height="14.3" fill="#9570a5"/>
<rect x="319.5" y="2376.2" width="27.9" height="14.3" fill="#a07dae"/>
<rect x="347" y="2376.2" width="27.9" height="14.3" fill="#f2e7ee"/>
<rect x="209.2" y="2390.1" width="27.9" height="14.3" fill="#d1d3e8"/>
<rect x="236.8" y="2390.1" width="27.9" height="14.3" fill="#c7cae3"/>
<rect x="264.3" y="2390.1" width="27.9" height="14.3" fill="#c7cae3"/>
<rect x="291.9" y="2390.1" width="27.9" height="14.3" fill="#9570a5"/>
<rect x="319.5" y="2390.1" width="27.9" height="14.3" fill="#f4f4f6"/>
<rect x="347" y="2390.1" width="27.9" height="14.3" fill="#f4f4f6"/>
<rect x="209.2" y="2404.1" width="27.9" height="14.3" fill="#d1d3e8"/>
<rect x="236.8" y="2404.1" width="27.9" height="14.3" fill="#c7cae3"/>
<rect x="264.3" y="2404.1" width="27.9" height="14.3" fill="#d1d3e8"/>
<rect x="291.9" y="2404.1" width="27.9" height="14.3" fill="#9570a5"/>
<rect x="319.5" y="2404.1" width="27.9" height="14.3" fill="#f4f4f6"/>
<rect x="347" y="2404.1" width="27.9" height="14.3" fill="#f4f4f6"/>
<rect x="209.2" y="2418.1" width="27.9" height="14.3" fill="#c7cae3"/>
<rect x="236.8" y="2418.1" width="27.9" height="14.3" fill="#d1d3e8"/>
<rect x="264.3" y="2418.1" width="27.9" height="14.3" fill="#d1d3e8"/>
<rect x="291.9" y="2418.1" width="27.9" height="14.3" fill="#9570a5"/>
<rect x="319.5" y="2418.1" width="27.9" height="14.3" fill="#f4f4f6"/>
<rect x="347" y="2418.1" width="27.9" height="14.3" fill="#e3e4f0"/>
<rect x="209.2" y="2432.1" width="27.9" height="14.3" fill="#c7cae3"/>
<rect x="236.8" y="2432.1" width="27.9" height="14.3" fill="#c7cae3"/>
<rect x="264.3" y="2432.1" width="27.9" height="14.3" fill="#c7cae3"/>
<rect x="291.9" y="2432.1" width="27.9" height="14.3" fill="#9570a5"/>
<rect x="319.5" y="2432.1" width="27.9" height="14.3" fill="#f4f4f6"/>
<rect x="347" y="2432.1" width="27.9" height="14.3" fill="#e3e4f0"/>
<rect x="209.2" y="2446" width="27.9" height="14.3" fill="#c7cae3"/>
<rect x="236.8" y="2446" width="27.9" height="14.3" fill="#c7cae3"/>
<rect x="264.3" y="2446" width="27.9" height="14.3" fill="#d1d3e8"/>
<rect x="291.9" y="2446" width="27.9" height="14.3" fill="#9570a5"/>
<rect x="319.5" y="2446" width="27.9" height="14.3" fill="#f4f4f6"/>
<rect x="347" y="2446" width="27.9" height="14.3" fill="#e3e4f0"/>
<rect x="209.2" y="2460" width="27.9" height="14.3" fill="#c7cae3"/>
<rect x="236.8" y="2460" width="27.9" height="14.3" fill="#c7cae3"/>
<rect x="264.3" y="2460" width="27.9" height="14.3" fill="#d1d3e8"/>
<rect x="291.9" y="2460" width="27.9" height="14.3" fill="#9570a5"/>
<rect x="319.5" y="2460" width="27.9" height="14.3" fill="#fdfdfd"/>
<rect x="347" y="2460" width="27.9" height="14.3" fill="#f4f4f6"/>
<rect x="209.2" y="2474" width="27.9" height="14.3" fill="#e3e4f0"/>
<rect x="236.8" y="2474" width="27.9" height="14.3" fill="#c7cae3"/>
<rect x="264.3" y="2474" width="27.9" height="14.3" fill="#c7cae3"/>
<rect x="291.9" y="2474" width="27.9" height="14.3" fill="#9570a5"/>
<rect x="319.5" y="2474" width="27.9" height="14.3" fill="#f4f4f6"/>
<rect x="347" y="2474" width="27.9" height="14.3" fill="#f4f4f6"/>
<rect x="209.2" y="2487.9" width="27.9" height="14.3" fill="#dadbeb"/>
<rect x="236.8" y="2487.9" width="27.9" height="14.3" fill="#c7cae3"/>
<rect x="264.3" y="2487.9" width="27.9" height="14.3" fill="#d1d3e8"/>
<rect x="291.9" y="2487.9" width="27.9" height="14.3" fill="#9570a5"/>
<rect x="319.5" y="2487.9" width="27.9" height="14.3" fill="#f4f4f6"/>
<rect x="347" y="2487.9" width="27.9" height="14.3" fill="#dadbeb"/>
<rect x="209.2" y="2501.9" width="27.9" height="14.3" fill="#d1d3e8"/>
<rect x="236.8" y="2501.9" width="27.9" height="14.3" fill="#c7cae3"/>
<rect x="264.3" y="2501.9" width="27.9" height="14.3" fill="#e3e4f0"/>
<rect x="291.9" y="2501.9" width="27.9" height="14.3" fill="#a07dae"/>
<rect x="319.5" y="2501.9" width="27.9" height="14.3" fill="#f2e7ee"/>
<rect x="347" y="2501.9" width="27.9" height="14.3" fill="#9570a5"/>
<rect x="209.2" y="2515.9" width="27.9" height="14.3" fill="#f4f4f6"/>
<rect x="236.8" y="2515.9" width="27.9" height="14.3" fill="#dadbeb"/>
<rect x="264.3" y="2515.9" width="27.9" height="14.3" fill="#c7cae3"/>
<rect x="291.9" y="2515.9" width="27.9" height="14.3" fill="#a07dae"/>
<rect x="319.5" y="2515.9" width="27.9" height="14.3" fill="#b597bf"/>
<rect x="347" y="2515.9" width="27.9" height="14.3" fill="#9570a5"/>
</g>
<path d="M236.8 1188.9V2529.8M264.3 1188.9V2529.8M291.9 1188.9V2529.8M319.5 1188.9V2529.8M347 1188.9V2529.8M209.2 1202.9H374.6M209.2 1216.8H374.6M209.2 1230.8H374.6M209.2 1244.8H374.6M209.2 1258.7H374.6M209.2 1272.7H374.6M209.2 1286.7H374.6M209.2 1300.6H374.6M209.2 1314.6H374.6M209.2 1328.6H374.6M209.2 1342.5H374.6M209.2 1356.5H374.6M209.2 1370.5H374.6M209.2 1384.5H374.6M209.2 1398.4H374.6M209.2 1412.4H374.6M209.2 1426.4H374.6M209.2 1440.3H374.6M209.2 1454.3H374.6M209.2 1468.3H374.6M209.2 1482.2H374.6M209.2 1496.2H374.6M209.2 1510.2H374.6M209.2 1524.1H374.6M209.2 1538.1H374.6M209.2 1552.1H374.6M209.2 1566H374.6M209.2 1580H374.6M209.2 1594H374.6M209.2 1607.9H374.6M209.2 1621.9H374.6M209.2 1635.9H374.6M209.2 1649.8H374.6M209.2 1663.8H374.6M209.2 1677.8H374.6M209.2 1691.7H374.6M209.2 1705.7H374.6M209.2 1719.7H374.6M209.2 1733.7H374.6M209.2 1747.6H374.6M209.2 1761.6H374.6M209.2 1775.6H374.6M209.2 1789.5H374.6M209.2 1803.5H374.6M209.2 1817.5H374.6M209.2 1831.4H374.6M209.2 1845.4H374.6M209.2 1859.4H374.6M209.2 1873.3H374.6M209.2 1887.3H374.6M209.2 1901.3H374.6M209.2 1915.2H374.6M209.2 1929.2H374.6M209.2 1943.2H374.6M209.2 1957.1H374.6M209.2 1971.1H374.6M209.2 1985.1H374.6M209.2 1999H374.6M209.2 2013H374.6M209.2 2027H374.6M209.2 2040.9H374.6M209.2 2054.9H374.6M209.2 2068.9H374.6M209.2 2082.9H374.6M209.2 2096.8H374.6M209.2 2110.8H374.6M209.2 2124.8H374.6M209.2 2138.7H374.6M209.2 2152.7H374.6M209.2 2166.7H374.6M209.2 2180.6H374.6M209.2 2194.6H374.6M209.2 2208.6H374.6M209.2 2222.5H374.6M209.2 2236.5H374.6M209.2 2250.5H374.6M209.2 2264.4H374.6M209.2 2278.4H374.6M209.2 2292.4H374.6M209.2 2306.3H374.6M209.2 2320.3H374.6M209.2 2334.3H374.6M209.2 2348.2H374.6M209.2 2362.2H374.6M209.2 2376.2H374.6M209.2 2390.1H374.6M209.2 2404.1H374.6M209.2 2418.1H374.6M209.2 2432.1H374.6M209.2 2446H374.6M209.2 2460H374.6M209.2 2474H374.6M209.2 2487.9H374.6M209.2 2501.9H374.6M209.2 2515.9H374.6" stroke="#5a5070" stroke-opacity="0.3" stroke-width="0.7" fill="none"/>
<g font-size="16.1" fill="#222" transform="translate(386.4 0) scale(0.885 1)">
<text x="0" y="1202">ALDH1A3</text>
<text x="0" y="1216">CST1</text>
<text x="0" y="1229.9">SCRG1</text>
<text x="0" y="1243.9">PTN</text>
<text x="0" y="1257.9">GJA1</text>
<text x="0" y="1271.8">FST</text>
<text x="0" y="1285.8">CPN1</text>
<text x="0" y="1299.8">NFATC2</text>
<text x="0" y="1313.7">B3GNT5</text>
<text x="0" y="1327.7">AIM2</text>
<text x="0" y="1341.7">DDR2</text>
<text x="0" y="1355.6">ACAN</text>
<text x="0" y="1369.6">COL8A1</text>
<text x="0" y="1383.6">ZNF519</text>
<text x="0" y="1397.6">FAM20A</text>
<text x="0" y="1411.5">HMCN1</text>
<text x="0" y="1425.5">WNT5A</text>
<text x="0" y="1439.5">KIF26B</text>
<text x="0" y="1453.4">SERTAD4</text>
<text x="0" y="1467.4">ITGA10</text>
<text x="0" y="1481.4">CST2</text>
<text x="0" y="1495.3">PTPRZ1</text>
<text x="0" y="1509.3">ITIH6</text>
<text x="0" y="1523.3">MUC7</text>
<text x="0" y="1537.2">LOXL4</text>
<text x="0" y="1551.2">PLXNA2</text>
<text x="0" y="1565.2">SHISA3</text>
<text x="0" y="1579.1">RNF128</text>
<text x="0" y="1593.1">UTS2</text>
<text x="0" y="1607.1">NOV</text>
<text x="0" y="1621">ENTPD1</text>
<text x="0" y="1635">TRIM48</text>
<text x="0" y="1649">FBXL7</text>
<text x="0" y="1662.9">SLC39A8</text>
<text x="0" y="1676.9">CCDC69</text>
<text x="0" y="1690.9">ELFN1-AS1</text>
<text x="0" y="1704.8">FAM155B</text>
<text x="0" y="1718.8">MAPK4</text>
<text x="0" y="1732.8">CAMKV</text>
<text x="0" y="1746.8">C1orf61</text>
<text x="0" y="1760.7">RHCG</text>
<text x="0" y="1774.7">NYNRIN</text>
<text x="0" y="1788.7">ATP8A1</text>
<text x="0" y="1802.6">HSPB8</text>
<text x="0" y="1816.6">FBLN5</text>
<text x="0" y="1830.6">TNFSF9</text>
<text x="0" y="1844.5">HHIPL1</text>
<text x="0" y="1858.5">CD70</text>
<text x="0" y="1872.5">LBH</text>
<text x="0" y="1886.4">CA11</text>
<text x="0" y="1900.4">GGT1</text>
<text x="0" y="1914.4">HGF</text>
<text x="0" y="1928.3">FEZ1</text>
<text x="0" y="1942.3">MIR30A</text>
<text x="0" y="1956.3">PDK4</text>
<text x="0" y="1970.2">TSSC2</text>
<text x="0" y="1984.2">HOMER2</text>
<text x="0" y="1998.2">ASB4</text>
<text x="0" y="2012.1">LOC100128317</text>
<text x="0" y="2026.1">TLE4</text>
<text x="0" y="2040.1">TENM1</text>
<text x="0" y="2054">BEX2</text>
<text x="0" y="2068">CCDC80</text>
<text x="0" y="2082">ABCA8</text>
<text x="0" y="2096">F11R</text>
<text x="0" y="2109.9">KYNU</text>
<text x="0" y="2123.9">GJA3</text>
<text x="0" y="2137.9">ARHGAP27</text>
<text x="0" y="2151.8">MYLK3</text>
<text x="0" y="2165.8">SEMA3F</text>
<text x="0" y="2179.8">HCP5</text>
<text x="0" y="2193.7">F12</text>
<text x="0" y="2207.7">HIST1H2BC</text>
<text x="0" y="2221.7">NOSTRIN</text>
<text x="0" y="2235.6">HLX</text>
<text x="0" y="2249.6">AGPAT4</text>
<text x="0" y="2263.6">CPNE7</text>
<text x="0" y="2277.5">PROCR</text>
<text x="0" y="2291.5">RUNDC3A</text>
<text x="0" y="2305.5">HCN2</text>
<text x="0" y="2319.4">NPDC1</text>
<text x="0" y="2333.4">COMTD1</text>
<text x="0" y="2347.4">INPP5J</text>
<text x="0" y="2361.3">ABCC6</text>
<text x="0" y="2375.3">ARL11</text>
<text x="0" y="2389.3">P2RX5</text>
<text x="0" y="2403.2">OVAAL</text>
<text x="0" y="2417.2">MYLK</text>
<text x="0" y="2431.2">ASGR1</text>
<text x="0" y="2445.2">HLA-DMB</text>
<text x="0" y="2459.1">TP53INP2</text>
<text x="0" y="2473.1">PRUNE2</text>
<text x="0" y="2487.1">QPCT</text>
<text x="0" y="2501">SRRM3</text>
<text x="0" y="2515">ANKRD20A12P</text>
<text x="0" y="2529">TTLL7</text>
</g>
<text transform="translate(229.8 1184.2) rotate(-90)" font-size="22" fill="#111" textLength="85.7" lengthAdjust="spacingAndGlyphs">shCtrl #1</text>
<text transform="translate(257.4 1184.2) rotate(-90)" font-size="22" fill="#111" textLength="85.7" lengthAdjust="spacingAndGlyphs">shCtrl #2</text>
<text transform="translate(284.9 1184.2) rotate(-90)" font-size="22" fill="#111" textLength="85.7" lengthAdjust="spacingAndGlyphs">shCtrl #3</text>
<text transform="translate(312.5 1184.2) rotate(-90)" font-size="22" fill="#111" textLength="104" lengthAdjust="spacingAndGlyphs">shGal-3 #1</text>
<text transform="translate(340.1 1184.2) rotate(-90)" font-size="22" fill="#111" textLength="104" lengthAdjust="spacingAndGlyphs">shGal-3 #2</text>
<text transform="translate(367.6 1184.2) rotate(-90)" font-size="22" fill="#111" textLength="104" lengthAdjust="spacingAndGlyphs">shGal-3 #3</text>
<path d="M223.5 1079.4V1035H264.4V1079.4M249.9 1079.4H279M250.7 1035V980.7H334.1V1047.6M305.4 1079.4V1047.6H347.1V1075.5M333 1080V1075.5H361.3V1080" stroke="#000" stroke-width="2.4" fill="none" stroke-linejoin="miter"/>
<defs><linearGradient id="lg" x1="0" y1="0" x2="0" y2="1"><stop offset="0" stop-color="#d0d2e8"/><stop offset="0.15" stop-color="#dcddec"/><stop offset="0.5" stop-color="#ffffff"/><stop offset="0.8" stop-color="#c3a6c9"/><stop offset="1" stop-color="#9670a6"/></linearGradient></defs>
<rect x="516.2" y="982.9" width="21.1" height="99.6" fill="url(#lg)" stroke="#000" stroke-width="3"/>
<text x="456.6" y="1000.9" font-size="24" fill="#111" textLength="42.5" lengthAdjust="spacingAndGlyphs">Min</text>
<text x="449.2" y="1097.3" font-size="24" fill="#111" textLength="46.7" lengthAdjust="spacingAndGlyphs">Max</text>
<path d="M1.5 1377.8V2048.6M1.5 1377.8H164.3M1.5 2048.6H168.2M164.3 1321.5V1510.5M164.3 1321.5H173.4M173.4 1294V1426.6M173.4 1294H180.7M180.7 1265.3V1371.3M180.7 1265.3H187.8M187.8 1223.2V1301.8M187.8 1223.2H193.1M193.1 1196V1251.5M193.1 1196H197M193.1 1251.5H197M196.8 1209.9V1237.8M187.8 1294H194.7M189.5 1294V1335.7M189.5 1335.7H197M194.7 1272.6V1308.6M197 1265.3V1279.9M196.8 1293.6V1322.4M180.7 1371.3H191.2M191.2 1349.9V1377.8M191.2 1349.9H197M191.2 1377.8H196.8M196.8 1364V1392.3M173.4 1426.6H188.5M188.5 1405.6V1433.5M188.5 1405.6H197M188.5 1433.5H197M193.2 1425.8V1447.7M193.2 1447.7H197M195.3 1419.8V1433.5M195.3 1419.8H197M164.3 1510.5H179.2M179.2 1503.5V1559.3M179.2 1559.3H197M179.2 1503.5H192.1M192.1 1495.8V1545.6M192.1 1545.6H197M194.2 1461.4V1531M194.2 1461.4H197M194.2 1531H197M168.2 1824.9V2306.7M168.2 1824.9H181.6M181.6 1733.7V1992.8M181.6 1733.7H186.1M186.1 1670.8V1838.6M186.1 1670.8H190.5M190.5 1615V1720.4M190.5 1615H194.7M194.7 1580V1651M197 1572.7V1587.8M196.5 1640.6V1657.7M192.9 1677.5V1762M196 1670.6V1685.2M194.5 1740V1769.5M194.5 1769.5H197M186.1 1838.6H191.2M191.2 1810.7V1873.8M193.2 1782.8V1832M193.2 1782.8H197M196.5 1797V1838.6M196.5 1852.8V1866.9M194 1860V1894.8M194 1894.8H197M191.2 1873.8H194M197 1908V1922.3M194 1915.4V1962.8M196.5 1936.2V1979.1M181.6 1992.8H189.1M189.1 1964.5V2055.5M189.1 1964.5H192M192 1964.5V2006.6M189.1 2055.5H193.5M196.5 1992.4V2006.1M194.5 2006V2020.3M194.5 2020.3H197M196.5 2034.5V2048.6M194.5 2040.9V2062.4M193.5 2048.6V2076.6M193.5 2062.4H197M193.5 2076.6H197M196 2090.3V2105M193.8 2160V2174M196 2244V2257.8M196 2257.8H197M168.2 2306.7H182M182 2292.9V2513.9M182 2292.9H190.7M190.4 2236.4V2446.7M190.4 2446.7H194.9M196.5 2271.6V2298.7M197 2313.5V2327.3M196 2342V2355.8M197 2369.6V2383.8M190.4 2377H197M197 2397V2411.8M196 2411V2440M195 2466V2496.4M182 2513.9H189.1M189.1 2509.3V2522.3M189.1 2509.3H197M189.1 2522.3H197" stroke="#000" stroke-width="2.3" fill="none" stroke-linecap="square"/>
<line x1="195" y1="1216" x2="195" y2="1232" stroke="#000" stroke-width="4.5"/>
<line x1="196.3" y1="1294" x2="196.3" y2="1308" stroke="#000" stroke-width="3.6"/>
<line x1="196" y1="1475" x2="196" y2="1517.7" stroke="#000" stroke-width="4.5"/>
<line x1="196" y1="1599.8" x2="196" y2="1629.4" stroke="#000" stroke-width="4.2"/>
<line x1="195.5" y1="1699" x2="195.5" y2="1739.3" stroke="#000" stroke-width="4.2"/>
<line x1="193.2" y1="1805" x2="193.2" y2="1818" stroke="#000" stroke-width="4.5"/>
<line x1="194.5" y1="1942.2" x2="194.5" y2="1958.5" stroke="#000" stroke-width="6"/>
<line x1="194" y1="1998" x2="194" y2="2006" stroke="#000" stroke-width="4.5"/>
<line x1="196" y1="2104.5" x2="196" y2="2160.8" stroke="#000" stroke-width="4.5"/>
<line x1="194.3" y1="2173.3" x2="194.3" y2="2244" stroke="#000" stroke-width="5.5"/>
<line x1="192.5" y1="2286" x2="192.5" y2="2377" stroke="#000" stroke-width="6"/>
<line x1="190.4" y1="2236.4" x2="190.4" y2="2286" stroke="#000" stroke-width="3"/>
<line x1="196" y1="2426.6" x2="196" y2="2466.8" stroke="#000" stroke-width="3.4"/>
</g>
<g id="panel-c">
<text x="592" y="1020.5" font-size="48" font-weight="bold" fill="#231f20">c</text>
<text transform="translate(814.2 1114) rotate(-46)" font-size="26.3" text-anchor="end">LOXL4</text>
<text transform="translate(857.5 1114) rotate(-46)" font-size="26.3" text-anchor="end">CADM1</text>
<text transform="translate(900.7 1114) rotate(-46)" font-size="26.3" text-anchor="end">LGALS3</text>
<text transform="translate(944 1114) rotate(-46)" font-size="26.3" text-anchor="end">MGP</text>
<text transform="translate(987.2 1114) rotate(-46)" font-size="26.3" text-anchor="end">NFATC2</text>
<text transform="translate(1030.5 1114) rotate(-46)" font-size="26.3" text-anchor="end">S100A4</text>
<text transform="translate(1073.7 1114) rotate(-46)" font-size="26.3" text-anchor="end">ALDH1A3</text>
<text transform="translate(1117 1114) rotate(-46)" font-size="26.3" text-anchor="end">WNT5A</text>
<text transform="translate(1160.2 1114) rotate(-46)" font-size="26.3" text-anchor="end">ITGB8</text>
<text transform="translate(1203.5 1114) rotate(-46)" font-size="26.3" text-anchor="end">COL8A1</text>
<text transform="translate(1246.7 1114) rotate(-46)" font-size="26.3" text-anchor="end">PTRZ1</text>
<text transform="translate(1290 1114) rotate(-46)" font-size="26.3" text-anchor="end">PDGFA</text>
<text transform="translate(1333.2 1114) rotate(-46)" font-size="26.3" text-anchor="end">ANXA2</text>
<text transform="translate(1376.5 1114) rotate(-46)" font-size="26.3" text-anchor="end">PTN</text>
<text transform="translate(1419.7 1114) rotate(-46)" font-size="26.3" text-anchor="end">ANXA1</text>
<text transform="translate(1463 1114) rotate(-46)" font-size="26.3" text-anchor="end">CAV1</text>
<text transform="translate(1506.2 1114) rotate(-46)" font-size="26.3" text-anchor="end">PTX3</text>
<text transform="translate(1549.5 1114) rotate(-46)" font-size="26.3" text-anchor="end">CNTN1</text>
<text transform="translate(1592.7 1114) rotate(-46)" font-size="26.3" text-anchor="end">CAMKV</text>
<text transform="translate(1636 1114) rotate(-46)" font-size="26.3" text-anchor="end">IGFBP5</text>
<text transform="translate(1679.2 1114) rotate(-46)" font-size="26.3" text-anchor="end">CHI3L1</text>
<text transform="translate(618.6 1450.7) rotate(-90) scale(1 1)" font-size="28.95" text-anchor="middle">mRNA expression in Ge518 shGal3</text>
<text transform="translate(652.2 1454.5) rotate(-90) scale(1 1)" font-size="28.95" text-anchor="middle">(fold change vs shCtrl)</text>
<rect x="734.8" y="1469.2" width="34.5" height="158.2" fill="#bccae3" stroke="#4a72b8" stroke-width="2.5"/>
<rect x="778" y="1469.2" width="34.5" height="145.1" fill="#bccae3" stroke="#4a72b8" stroke-width="2.5"/>
<rect x="821.4" y="1469.2" width="34.5" height="120.3" fill="#bccae3" stroke="#4a72b8" stroke-width="2.5"/>
<rect x="864.6" y="1469.2" width="34.5" height="107.3" fill="#bccae3" stroke="#4a72b8" stroke-width="2.5"/>
<rect x="908" y="1469.2" width="34.5" height="93.9" fill="#bccae3" stroke="#4a72b8" stroke-width="2.5"/>
<rect x="951.2" y="1469.2" width="34.5" height="76.3" fill="#bccae3" stroke="#4a72b8" stroke-width="2.5"/>
<rect x="994.5" y="1469.2" width="34.5" height="68.2" fill="#bccae3" stroke="#4a72b8" stroke-width="2.5"/>
<rect x="1037.8" y="1469.2" width="34.5" height="59.8" fill="#bccae3" stroke="#4a72b8" stroke-width="2.5"/>
<rect x="1081.2" y="1469.2" width="34.5" height="57.9" fill="#bccae3" stroke="#4a72b8" stroke-width="2.5"/>
<rect x="1124.5" y="1469.2" width="34.5" height="57.3" fill="#bccae3" stroke="#4a72b8" stroke-width="2.5"/>
<rect x="1167.8" y="1469.2" width="34.5" height="55.2" fill="#bccae3" stroke="#4a72b8" stroke-width="2.5"/>
<rect x="1211" y="1469.2" width="34.5" height="55.2" fill="#bccae3" stroke="#4a72b8" stroke-width="2.5"/>
<rect x="1254.3" y="1469.2" width="34.5" height="39.1" fill="#bccae3" stroke="#4a72b8" stroke-width="2.5"/>
<rect x="1297.7" y="1469.2" width="34.5" height="30.7" fill="#bccae3" stroke="#4a72b8" stroke-width="2.5"/>
<rect x="1340.9" y="1469.2" width="34.5" height="26.9" fill="#bccae3" stroke="#4a72b8" stroke-width="2.5"/>
<rect x="1384.2" y="1469.2" width="34.5" height="3.2" fill="#bccae3" stroke="#4a72b8" stroke-width="2.5"/>
<rect x="1427.5" y="1404.5" width="34.5" height="62.1" fill="#bccae3" stroke="#4a72b8" stroke-width="2.5"/>
<rect x="1470.8" y="1356" width="34.5" height="110.7" fill="#bccae3" stroke="#4a72b8" stroke-width="2.5"/>
<rect x="1514.2" y="1331.5" width="34.5" height="135.2" fill="#bccae3" stroke="#4a72b8" stroke-width="2.5"/>
<rect x="1557.4" y="1316.5" width="34.5" height="150.1" fill="#bccae3" stroke="#4a72b8" stroke-width="2.5"/>
<rect x="1600.8" y="1299.2" width="34.5" height="167.4" fill="#bccae3" stroke="#4a72b8" stroke-width="2.5"/>
<path d="M752 1602.6V1665.4M743.2 1602.6H760.8M743.2 1665.4H760.8M795.3 1581.9V1667.7M786.5 1581.9H804.1M786.5 1667.7H804.1M838.6 1553.2V1650M829.8 1553.2H847.4M829.8 1650H847.4M881.9 1560.9V1598.8M873.1 1560.9H890.7M873.1 1598.8H890.7M925.2 1544.8V1589.2M916.4 1544.8H934M916.4 1589.2H934M968.5 1531.8V1565.1M959.7 1531.8H977.3M959.7 1565.1H977.3M1011.8 1518.4V1564.7M1003 1518.4H1020.6M1003 1564.7H1020.6M1055.1 1507.7V1560.5M1046.3 1507.7H1063.9M1046.3 1560.5H1063.9M1098.4 1520.7V1537.5M1089.6 1520.7H1107.2M1089.6 1537.5H1107.2M1141.7 1507.5V1554.4M1132.9 1507.5H1150.5M1132.9 1554.4H1150.5M1185 1510V1545.2M1176.2 1510H1193.8M1176.2 1545.2H1193.8M1228.3 1502V1557M1219.5 1502H1237.1M1219.5 1557H1237.1M1271.6 1500.4V1520.7M1262.8 1500.4H1280.4M1262.8 1520.7H1280.4M1314.9 1486.6V1518.4M1306.1 1486.6H1323.7M1306.1 1518.4H1323.7M1358.2 1482.8V1516.5M1349.4 1482.8H1367M1349.4 1516.5H1367M1401.5 1464.4V1485.1M1392.7 1464.4H1410.3M1392.7 1485.1H1410.3M1444.8 1393.6V1413.2M1436 1393.6H1453.6M1436 1413.2H1453.6M1488.1 1332V1382.5M1479.3 1332H1496.9M1479.3 1382.5H1496.9M1531.4 1304.9V1362.3M1522.6 1304.9H1540.2M1522.6 1362.3H1540.2M1574.7 1273.1V1385.6M1565.9 1273.1H1583.5M1565.9 1385.6H1583.5M1618 1245.2V1408.2M1609.2 1245.2H1626.8M1609.2 1408.2H1626.8" stroke="#4a72b8" stroke-width="2.5" fill="none" stroke-linecap="round"/>
<line x1="717.4" y1="1225.2" x2="717.4" y2="1710.3" stroke="#000" stroke-width="2.6"/>
<line x1="709.9" y1="1467.9" x2="1652" y2="1467.9" stroke="#000" stroke-width="2.6"/>
<line x1="709.4" y1="1226.8" x2="717.4" y2="1226.8" stroke="#000" stroke-width="2.6"/>
<line x1="709.4" y1="1709" x2="717.4" y2="1709" stroke="#000" stroke-width="2.6"/>
<text x="708.9" y="1236.1" font-size="27" text-anchor="end">10</text>
<text x="708.9" y="1477.2" font-size="27" text-anchor="end">1</text>
<text x="708.9" y="1718.3" font-size="27" text-anchor="end">0.1</text>
<text x="751.3" y="1709.2" font-size="33" text-anchor="middle" letter-spacing="0.6" stroke="#000" stroke-width="0.35">***</text>
<text x="795.3" y="1725.7" font-size="33" text-anchor="middle" letter-spacing="0.6" stroke="#000" stroke-width="0.35">***</text>
<text x="839.3" y="1698.1" font-size="33" text-anchor="middle" letter-spacing="0.6" stroke="#000" stroke-width="0.35">**</text>
<text x="880" y="1648" font-size="33" text-anchor="middle" letter-spacing="0.6" stroke="#000" stroke-width="0.35">***</text>
<text x="925.5" y="1630.4" font-size="33" text-anchor="middle" letter-spacing="0.6" stroke="#000" stroke-width="0.35">**</text>
<text x="966.8" y="1610.1" font-size="33" text-anchor="middle" letter-spacing="0.6" stroke="#000" stroke-width="0.35">***</text>
<text x="1011.6" y="1610.1" font-size="33" text-anchor="middle" letter-spacing="0.6" stroke="#000" stroke-width="0.35">*</text>
<text x="1055.2" y="1606.6" font-size="33" text-anchor="middle" letter-spacing="0.6" stroke="#000" stroke-width="0.35">**</text>
<text x="1098.5" y="1584.8" font-size="33" text-anchor="middle" letter-spacing="0.6" stroke="#000" stroke-width="0.35">**</text>
<text x="1141.6" y="1600.9" font-size="33" text-anchor="middle" letter-spacing="0.6" stroke="#000" stroke-width="0.35">**</text>
<text x="1183.5" y="1589" font-size="33" text-anchor="middle" letter-spacing="0.6" stroke="#000" stroke-width="0.35">***</text>
<text x="1229.4" y="1603.2" font-size="33" text-anchor="middle" letter-spacing="0.6" stroke="#000" stroke-width="0.35">**</text>
<text x="1271.5" y="1569.5" font-size="33" text-anchor="middle" letter-spacing="0.6" stroke="#000" stroke-width="0.35">**</text>
<text x="1316.7" y="1566.8" font-size="33" text-anchor="middle" letter-spacing="0.6" stroke="#000" stroke-width="0.35">**</text>
<text x="1357.2" y="1538.1" font-size="30.8" text-anchor="middle">ns</text>
<text x="1401.5" y="1419.9" font-size="30.8" text-anchor="middle">ns</text>
<text x="1442.2" y="1365.9" font-size="33" text-anchor="middle" letter-spacing="0.6" stroke="#000" stroke-width="0.35">**</text>
<text x="1487.8" y="1303.9" font-size="33" text-anchor="middle" letter-spacing="0.6" stroke="#000" stroke-width="0.35">**</text>
<text x="1531" y="1276" font-size="33" text-anchor="middle" letter-spacing="0.6" stroke="#000" stroke-width="0.35">**</text>
<text x="1572.3" y="1250.4" font-size="30.8" text-anchor="middle">ns</text>
<text x="1617.8" y="1221.6" font-size="30.8" text-anchor="middle">ns</text>
</g>
<g id="panel-d">
<text x="592" y="1807" font-size="48" font-weight="bold" fill="#231f20">d</text>
<text transform="translate(814 1883) rotate(-46)" font-size="26.3" text-anchor="end">LOXL4</text>
<text transform="translate(858.5 1883) rotate(-46)" font-size="26.3" text-anchor="end">CADM1</text>
<text transform="translate(903 1883) rotate(-46)" font-size="26.3" text-anchor="end">LGALS3</text>
<text transform="translate(947.5 1883) rotate(-46)" font-size="26.3" text-anchor="end">MGP</text>
<text transform="translate(992 1883) rotate(-46)" font-size="26.3" text-anchor="end">NFATC2</text>
<text transform="translate(1036.5 1883) rotate(-46)" font-size="26.3" text-anchor="end">S100A4</text>
<text transform="translate(1081 1883) rotate(-46)" font-size="26.3" text-anchor="end">ALDHA13</text>
<text transform="translate(1125.5 1883) rotate(-46)" font-size="26.3" text-anchor="end">WNT5A</text>
<text transform="translate(1170 1883) rotate(-46)" font-size="26.3" text-anchor="end">ITGB8</text>
<text transform="translate(1214.5 1883) rotate(-46)" font-size="26.3" text-anchor="end">COL8A1</text>
<text transform="translate(1259 1883) rotate(-46)" font-size="26.3" text-anchor="end">PTRZ1</text>
<text transform="translate(1303.5 1883) rotate(-46)" font-size="26.3" text-anchor="end">PDGFA</text>
<text transform="translate(1348 1883) rotate(-46)" font-size="26.3" text-anchor="end">ANXA2</text>
<text transform="translate(1392.5 1883) rotate(-46)" font-size="26.3" text-anchor="end">PTN</text>
<text transform="translate(1437 1883) rotate(-46)" font-size="26.3" text-anchor="end">ANXA1</text>
<text transform="translate(1481.5 1883) rotate(-46)" font-size="26.3" text-anchor="end">CAV1</text>
<text transform="translate(1526 1883) rotate(-46)" font-size="26.3" text-anchor="end">PTX3</text>
<text transform="translate(1570.5 1883) rotate(-46)" font-size="26.3" text-anchor="end">CNTN1</text>
<text transform="translate(1615 1883) rotate(-46)" font-size="26.3" text-anchor="end">CAMKV</text>
<text transform="translate(1659.5 1883) rotate(-46)" font-size="26.3" text-anchor="end">IGFBP5</text>
<text transform="translate(1704 1883) rotate(-46)" font-size="26.3" text-anchor="end">CHI3L1</text>
<text transform="translate(619.6 2194) rotate(-90) scale(0.958 1)" font-size="28.95" text-anchor="middle">mRNA expression in Ge269 shGal3</text>
<text transform="translate(652.7 2194) rotate(-90) scale(0.958 1)" font-size="28.95" text-anchor="middle">(fold change vs shCtrl)</text>
<rect x="732.4" y="2258.6" width="35.4" height="104.7" fill="#bccae3" stroke="#4a72b8" stroke-width="2.5"/>
<rect x="776.9" y="2258.6" width="35.4" height="72.1" fill="#bccae3" stroke="#4a72b8" stroke-width="2.5"/>
<rect x="821.5" y="2258.6" width="35.4" height="84.8" fill="#bccae3" stroke="#4a72b8" stroke-width="2.5"/>
<rect x="866" y="2258.6" width="35.4" height="41.1" fill="#bccae3" stroke="#4a72b8" stroke-width="2.5"/>
<rect x="910.6" y="2258.6" width="35.4" height="26.2" fill="#bccae3" stroke="#4a72b8" stroke-width="2.5"/>
<rect x="955.1" y="2258.6" width="35.4" height="14" fill="#bccae3" stroke="#4a72b8" stroke-width="2.5"/>
<rect x="999.6" y="2258.6" width="35.4" height="38.5" fill="#bccae3" stroke="#4a72b8" stroke-width="2.5"/>
<rect x="1044.2" y="2258.6" width="35.4" height="39.6" fill="#bccae3" stroke="#4a72b8" stroke-width="2.5"/>
<rect x="1088.7" y="2205.7" width="35.4" height="50.4" fill="#bccae3" stroke="#4a72b8" stroke-width="2.5"/>
<rect x="1133.3" y="2258.6" width="35.4" height="64.9" fill="#bccae3" stroke="#4a72b8" stroke-width="2.5"/>
<rect x="1177.8" y="2258.6" width="35.4" height="54.5" fill="#bccae3" stroke="#4a72b8" stroke-width="2.5"/>
<rect x="1222.3" y="2258.6" width="35.4" height="36.2" fill="#bccae3" stroke="#4a72b8" stroke-width="2.5"/>
<rect x="1266.9" y="2258.6" width="35.4" height="8.2" fill="#bccae3" stroke="#4a72b8" stroke-width="2.5"/>
<rect x="1311.4" y="2258.6" width="35.4" height="79.8" fill="#bccae3" stroke="#4a72b8" stroke-width="2.5"/>
<rect x="1356" y="2238.6" width="35.4" height="17.5" fill="#bccae3" stroke="#4a72b8" stroke-width="2.5"/>
<rect x="1400.5" y="2258.6" width="35.4" height="2.1" fill="#bccae3" stroke="#4a72b8" stroke-width="2.5"/>
<rect x="1445" y="2156.2" width="35.4" height="99.8" fill="#bccae3" stroke="#4a72b8" stroke-width="2.5"/>
<rect x="1489.6" y="2253.9" width="35.4" height="2.2" fill="#bccae3" stroke="#4a72b8" stroke-width="2.5"/>
<rect x="1534.1" y="2078.6" width="35.4" height="177.5" fill="#bccae3" stroke="#4a72b8" stroke-width="2.5"/>
<rect x="1578.7" y="2152.9" width="35.4" height="103.2" fill="#bccae3" stroke="#4a72b8" stroke-width="2.5"/>
<rect x="1623.2" y="2182.4" width="35.4" height="73.7" fill="#bccae3" stroke="#4a72b8" stroke-width="2.5"/>
<path d="M750.1 2335.3V2414.9M741.3 2335.3H758.9M741.3 2414.9H758.9M794.6 2328.1V2335.7M785.8 2328.1H803.4M785.8 2335.7H803.4M839.2 2334.2V2355.6M830.4 2334.2H848M830.4 2355.6H848M883.7 2284V2323.1M874.9 2284H892.5M874.9 2323.1H892.5M928.3 2276V2296.3M919.5 2276H937.1M919.5 2296.3H937.1M972.8 2259.2V2292.1M964 2259.2H981.6M964 2292.1H981.6M1017.3 2287.1V2310.5M1008.5 2287.1H1026.1M1008.5 2310.5H1026.1M1061.9 2284V2319.3M1053.1 2284H1070.7M1053.1 2319.3H1070.7M1106.4 2190.7V2222.8M1097.6 2190.7H1115.2M1097.6 2222.8H1115.2M1151 2318.5V2330.7M1142.2 2318.5H1159.8M1142.2 2330.7H1159.8M1195.5 2302.4V2329.2M1186.7 2302.4H1204.3M1186.7 2329.2H1204.3M1240 2279.8V2316.6M1231.2 2279.8H1248.8M1231.2 2316.6H1248.8M1284.6 2265.3V2270.7M1275.8 2265.3H1293.4M1275.8 2270.7H1293.4M1329.1 2308.9V2394.7M1320.3 2308.9H1337.9M1320.3 2394.7H1337.9M1373.7 2232V2243.1M1364.9 2232H1382.5M1364.9 2243.1H1382.5M1418.2 2255V2268.7M1409.4 2255H1427M1409.4 2268.7H1427M1462.7 2132.5V2188.8M1453.9 2132.5H1471.5M1453.9 2188.8H1471.5M1507.3 2225.1V2297.4M1498.5 2225.1H1516.1M1498.5 2297.4H1516.1M1551.8 2032.2V2245M1543 2032.2H1560.6M1543 2245H1560.6M1596.4 2129.1V2184.5M1587.6 2129.1H1605.2M1587.6 2184.5H1605.2M1640.9 2139.4V2302M1632.1 2139.4H1649.7M1632.1 2302H1649.7" stroke="#4a72b8" stroke-width="2.5" fill="none" stroke-linecap="round"/>
<line x1="714.6" y1="1986.3" x2="714.6" y2="2418.1" stroke="#000" stroke-width="2.6"/>
<line x1="707.1" y1="2257.3" x2="1677" y2="2257.3" stroke="#000" stroke-width="2.6"/>
<line x1="706.6" y1="2097.3" x2="714.6" y2="2097.3" stroke="#000" stroke-width="2.6"/>
<line x1="706.6" y1="2416.8" x2="714.6" y2="2416.8" stroke="#000" stroke-width="2.6"/>
<text x="706.1" y="2106.6" font-size="27" text-anchor="end">10</text>
<text x="706.1" y="2266.6" font-size="27" text-anchor="end">1</text>
<text x="706.1" y="2426.1" font-size="27" text-anchor="end">0.1</text>
<text x="747.5" y="2456.6" font-size="25.2" text-anchor="middle" letter-spacing="0.6" stroke="#000" stroke-width="0.35">***</text>
<text x="790.4" y="2378.2" font-size="25.2" text-anchor="middle" letter-spacing="0.6" stroke="#000" stroke-width="0.35">***</text>
<text x="839.8" y="2395.4" font-size="25.2" text-anchor="middle" letter-spacing="0.6" stroke="#000" stroke-width="0.35">***</text>
<text x="883.3" y="2366.4" font-size="28.6" text-anchor="middle">ns</text>
<text x="926.8" y="2338.4" font-size="28.6" text-anchor="middle">ns</text>
<text x="972.9" y="2334.6" font-size="28.6" text-anchor="middle">ns</text>
<text x="1017.7" y="2353.8" font-size="28.6" text-anchor="middle">ns</text>
<text x="1061.6" y="2360.6" font-size="28.6" text-anchor="middle">ns</text>
<text x="1105.3" y="2169.3" font-size="28.6" text-anchor="middle">ns</text>
<text x="1151.8" y="2369.4" font-size="25.2" text-anchor="middle" letter-spacing="0.6" stroke="#000" stroke-width="0.35">***</text>
<text x="1194.6" y="2364" font-size="25.2" text-anchor="middle" letter-spacing="0.6" stroke="#000" stroke-width="0.35">**</text>
<text x="1240.2" y="2356.3" font-size="25.2" text-anchor="middle" letter-spacing="0.6" stroke="#000" stroke-width="0.35">**</text>
<text x="1284.6" y="2308.5" font-size="25.2" text-anchor="middle" letter-spacing="0.6" stroke="#000" stroke-width="0.35">***</text>
<text x="1329.3" y="2431.7" font-size="25.2" text-anchor="middle" letter-spacing="0.6" stroke="#000" stroke-width="0.35">**</text>
<text x="1374.2" y="2210.2" font-size="28.6" text-anchor="middle">ns</text>
<text x="1418.8" y="2309" font-size="28.6" text-anchor="middle">ns</text>
<text x="1461.9" y="2113.7" font-size="24.2" text-anchor="middle">0.056</text>
<text x="1507.4" y="2338.4" font-size="28.6" text-anchor="middle">ns</text>
<text x="1551.4" y="2015.4" font-size="28.6" text-anchor="middle">ns</text>
<text x="1594.8" y="2108.1" font-size="28.6" text-anchor="middle">ns</text>
<text x="1641.2" y="2119.5" font-size="28.6" text-anchor="middle">ns</text>
</g>
</svg>
</body></html>
